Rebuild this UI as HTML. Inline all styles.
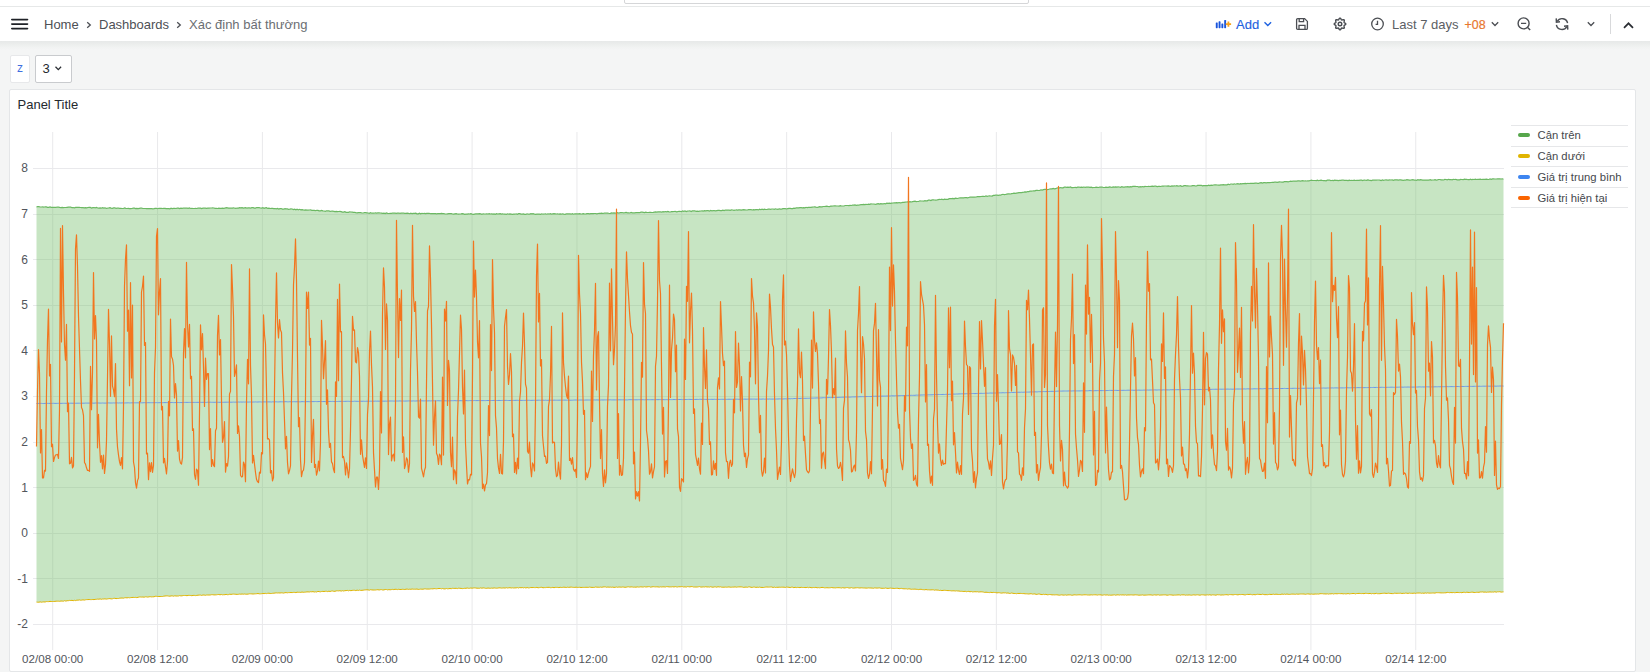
<!DOCTYPE html>
<html><head><meta charset="utf-8">
<style>
*{box-sizing:border-box;margin:0;padding:0}
html,body{width:1650px;height:672px;overflow:hidden;background:#f4f5f5;font-family:"Liberation Sans",sans-serif;color:#24292e}
.abs{position:absolute}
#top{position:absolute;left:0;top:0;width:1650px;height:7px;background:#fff;border-bottom:1px solid #e6e8e8}
#search{position:absolute;left:624px;top:-9px;width:405px;height:13px;border:1px solid #d5d6d8;border-radius:2px;background:#fff}
#hdr{position:absolute;left:0;top:7px;width:1650px;height:34px;background:#fff}
#shd{position:absolute;left:0;top:41px;width:1650px;height:9px;background:linear-gradient(#e7e9e9,#eaeceb 25%,#eef0ef 50%,#f2f3f3 75%,#f4f5f5)}
.t13{font-size:13px;line-height:16px;white-space:nowrap}
.crumb{position:absolute;top:16.5px;color:#4d5055}
.sep{position:absolute;top:16px;color:#55585d}
.var{position:absolute;top:55px;height:27.5px;background:#fff;border-radius:2px}
#panel{position:absolute;left:9px;top:89px;width:1627px;height:583px;background:#fff;border:1px solid #e4e6e8;border-radius:2px}
.yl{position:absolute;width:40px;left:-12px;text-align:right;font-size:12px;line-height:14px;color:#52565c}
.xl{position:absolute;top:652px;width:100px;text-align:center;font-size:11.6px;line-height:14px;color:#52565c}
.leg{position:absolute;left:1511px;width:117px;height:20.7px}
.leg i{position:absolute;left:7px;top:8.4px;width:12px;height:4px;border-radius:2px}
.leg span{position:absolute;left:26.5px;top:3.4px;font-size:11.3px;line-height:14px;color:#45484d;white-space:nowrap}
</style></head><body>
<div id="top"><div id="search"></div></div>
<div id="hdr"></div><div id="shd"></div>
<!-- hamburger -->
<svg class="abs" style="left:0;top:0" width="40" height="41">
<rect x="11" y="18.7" width="17.3" height="1.7" rx="0.8" fill="#1f2227"/>
<rect x="11" y="23.2" width="17.3" height="1.7" rx="0.8" fill="#1f2227"/>
<rect x="11" y="27.7" width="17.3" height="1.7" rx="0.8" fill="#1f2227"/>
</svg>
<div class="crumb t13" style="left:44px">Home</div>
<svg class="abs" style="left:86px;top:21px" width="6" height="8"><path d="M1.2 1.2 L4.3 4 L1.2 6.8" fill="none" stroke="#4b4e53" stroke-width="1.3"/></svg>
<div class="crumb t13" style="left:99px">Dashboards</div>
<svg class="abs" style="left:176px;top:21px" width="6" height="8"><path d="M1.2 1.2 L4.3 4 L1.2 6.8" fill="none" stroke="#4b4e53" stroke-width="1.3"/></svg>
<div class="crumb t13" style="left:189px;color:#6b6e73">Xác định bất thường</div>

<!-- Add -->
<svg class="abs" style="left:1214px;top:18px" width="20" height="12">
<rect x="1.8" y="4.4" width="1.9" height="5.8" rx="0.6" fill="#1a55dc"/>
<rect x="4.6" y="3.3" width="1.9" height="6.9" rx="0.6" fill="#1a55dc"/>
<rect x="7.4" y="5.4" width="1.9" height="4.8" rx="0.6" fill="#1a55dc"/>
<rect x="10.2" y="1.9" width="1.9" height="8.3" rx="0.6" fill="#1a55dc"/>
<path d="M14.4 3.4 V8.7 M11.8 6.1 H17.1" stroke="#f7a21b" stroke-width="1.8"/>
</svg>
<div class="abs t13" style="left:1236px;top:16.8px;color:#1f62e0;-webkit-text-stroke:0.15px #1f62e0">Add</div>
<svg class="abs" style="left:1262.5px;top:20px" width="10" height="8"><path d="M1.5 2.2 L4.8 5.5 L8.1 2.2" fill="none" stroke="#1f62e0" stroke-width="1.4"/></svg>
<!-- save -->
<svg class="abs" style="left:1294px;top:16px" width="16" height="16">
<path d="M3.8 2.6 H10.6 L13.4 5.4 V12.2 Q13.4 13.4 12.2 13.4 H3.8 Q2.6 13.4 2.6 12.2 V3.8 Q2.6 2.6 3.8 2.6 Z" fill="none" stroke="#4b4e53" stroke-width="1.3"/>
<path d="M5.2 2.8 V5.6 H9.6 V2.8 M5 13.2 V9.4 H11 V13.2" fill="none" stroke="#4b4e53" stroke-width="1.3"/>
</svg>
<!-- gear -->
<svg class="abs" style="left:1331.6px;top:16px" width="16" height="16">
<path d="M13.80 8.00 L13.69 8.37 L13.40 8.71 L13.00 8.99 L12.59 9.23 L12.26 9.44 L12.07 9.68 L12.03 9.99 L12.11 10.38 L12.24 10.83 L12.32 11.32 L12.29 11.76 L12.10 12.10 L11.76 12.29 L11.32 12.32 L10.83 12.24 L10.38 12.11 L9.99 12.03 L9.68 12.07 L9.44 12.26 L9.23 12.59 L8.99 13.00 L8.71 13.40 L8.37 13.69 L8.00 13.80 L7.63 13.69 L7.29 13.40 L7.01 13.00 L6.77 12.59 L6.56 12.26 L6.32 12.07 L6.01 12.03 L5.63 12.11 L5.17 12.24 L4.68 12.32 L4.24 12.29 L3.90 12.10 L3.71 11.76 L3.68 11.32 L3.76 10.83 L3.89 10.38 L3.97 9.99 L3.93 9.68 L3.74 9.44 L3.41 9.23 L3.00 8.99 L2.60 8.71 L2.31 8.37 L2.20 8.00 L2.31 7.63 L2.60 7.29 L3.00 7.01 L3.41 6.77 L3.74 6.56 L3.93 6.32 L3.97 6.01 L3.89 5.63 L3.76 5.17 L3.68 4.68 L3.71 4.24 L3.90 3.90 L4.24 3.71 L4.68 3.68 L5.17 3.76 L5.62 3.89 L6.01 3.97 L6.32 3.93 L6.56 3.74 L6.77 3.41 L7.01 3.00 L7.29 2.60 L7.63 2.31 L8.00 2.20 L8.37 2.31 L8.71 2.60 L8.99 3.00 L9.23 3.41 L9.44 3.74 L9.68 3.93 L9.99 3.97 L10.38 3.89 L10.83 3.76 L11.32 3.68 L11.76 3.71 L12.10 3.90 L12.29 4.24 L12.32 4.68 L12.24 5.17 L12.11 5.62 L12.03 6.01 L12.07 6.32 L12.26 6.56 L12.59 6.77 L13.00 7.01 L13.40 7.29 L13.69 7.63 L13.80 8.00Z" fill="none" stroke="#4b4e53" stroke-width="1.45" stroke-linejoin="round"/>
<circle cx="8" cy="8" r="1.8" fill="none" stroke="#4b4e53" stroke-width="1.4"/>
</svg>
<!-- clock -->
<svg class="abs" style="left:1369px;top:16px" width="17" height="17">
<circle cx="8.5" cy="8" r="5.8" fill="none" stroke="#4b4e53" stroke-width="1.3"/>
<path d="M8.5 4.8 V8.3 H6.6" fill="none" stroke="#4b4e53" stroke-width="1.3"/>
</svg>
<div class="abs t13" style="left:1392px;top:16.5px;color:#5b5e63">Last 7 days</div>
<div class="abs t13" style="left:1464.5px;top:16.5px;color:#e8772e;font-size:12.4px;-webkit-text-stroke:0.2px #e8772e">+08</div>
<svg class="abs" style="left:1490px;top:20px" width="10" height="8"><path d="M1.8 2.3 L5 5.5 L8.2 2.3" fill="none" stroke="#4b4e53" stroke-width="1.3"/></svg>
<!-- zoom out -->
<svg class="abs" style="left:1515px;top:15px" width="18" height="18">
<circle cx="8.6" cy="8.4" r="5.5" fill="none" stroke="#4b4e53" stroke-width="1.4"/>
<path d="M6 8.4 H11.2 M12.6 12.4 L15.2 15" fill="none" stroke="#4b4e53" stroke-width="1.4"/>
</svg>
<!-- refresh -->
<svg class="abs" style="left:1553px;top:15px" width="18" height="18">
<path d="M4.2 6.5 A5.6 5.6 0 0 1 14.6 8.2" fill="none" stroke="#4b4e53" stroke-width="1.4"/>
<path d="M13.8 11.6 A5.6 5.6 0 0 1 3.4 9.8" fill="none" stroke="#4b4e53" stroke-width="1.4"/>
<path d="M3.2 3.4 L3.4 7.2 L7 6.8" fill="none" stroke="#4b4e53" stroke-width="1.4"/>
<path d="M14.8 14.6 L14.6 10.8 L11 11.2" fill="none" stroke="#4b4e53" stroke-width="1.4"/>
</svg>
<svg class="abs" style="left:1586px;top:20px" width="10" height="8"><path d="M1.8 2.3 L5 5.5 L8.2 2.3" fill="none" stroke="#4b4e53" stroke-width="1.3"/></svg>
<div class="abs" style="left:1610px;top:14px;width:1px;height:20px;background:#d8d9db"></div>
<svg class="abs" style="left:1622px;top:19.7px" width="13" height="10"><path d="M2 7.8 L6.5 3.3 L11 7.8" fill="none" stroke="#2b2e33" stroke-width="1.7"/></svg>

<!-- variables -->
<div class="var" style="left:9.6px;width:20.9px;border:1px solid #e7e8ea"><span style="position:absolute;left:6.5px;top:5px;font-size:12px;line-height:14px;color:#3f6fe0">z</span></div>
<div class="var" style="left:34.5px;width:37px;border:1px solid #c9cbce"><span style="position:absolute;left:7px;top:4.8px;font-size:13px;line-height:15px;color:#24292e">3</span>
<svg class="abs" style="left:18.5px;top:9px" width="9" height="7"><path d="M1.5 1.8 L4.3 4.6 L7.1 1.8" fill="none" stroke="#2b2e33" stroke-width="1.3"/></svg></div>

<div id="panel"></div>
<div class="abs" style="left:17.5px;top:96.7px;font-size:13px;line-height:16px;color:#24292e">Panel Title</div>

<svg class="abs" style="left:0;top:0" width="1650" height="672">
<rect x="33" y="624" width="1471" height="1" fill="#e9e9ec"/>
<rect x="33" y="578" width="1471" height="1" fill="#e9e9ec"/>
<rect x="33" y="533" width="1471" height="1" fill="#e9e9ec"/>
<rect x="33" y="487" width="1471" height="1" fill="#e9e9ec"/>
<rect x="33" y="442" width="1471" height="1" fill="#e9e9ec"/>
<rect x="33" y="396" width="1471" height="1" fill="#e9e9ec"/>
<rect x="33" y="350" width="1471" height="1" fill="#e9e9ec"/>
<rect x="33" y="305" width="1471" height="1" fill="#e9e9ec"/>
<rect x="33" y="259" width="1471" height="1" fill="#e9e9ec"/>
<rect x="33" y="214" width="1471" height="1" fill="#e9e9ec"/>
<rect x="33" y="168" width="1471" height="1" fill="#e9e9ec"/>
<rect x="52.20" y="132" width="1" height="518" fill="#e9e9ec"/>
<rect x="157.05" y="132" width="1" height="518" fill="#e9e9ec"/>
<rect x="261.90" y="132" width="1" height="518" fill="#e9e9ec"/>
<rect x="366.75" y="132" width="1" height="518" fill="#e9e9ec"/>
<rect x="471.60" y="132" width="1" height="518" fill="#e9e9ec"/>
<rect x="576.45" y="132" width="1" height="518" fill="#e9e9ec"/>
<rect x="681.30" y="132" width="1" height="518" fill="#e9e9ec"/>
<rect x="786.15" y="132" width="1" height="518" fill="#e9e9ec"/>
<rect x="891.00" y="132" width="1" height="518" fill="#e9e9ec"/>
<rect x="995.85" y="132" width="1" height="518" fill="#e9e9ec"/>
<rect x="1100.70" y="132" width="1" height="518" fill="#e9e9ec"/>
<rect x="1205.55" y="132" width="1" height="518" fill="#e9e9ec"/>
<rect x="1310.40" y="132" width="1" height="518" fill="#e9e9ec"/>
<rect x="1415.25" y="132" width="1" height="518" fill="#e9e9ec"/>
<path d="M36.5 206.9 L37.7 206.7 L38.9 206.7 L40.2 207 L41.4 207 L42.6 206.9 L43.8 207.2 L45.1 206.8 L46.3 206.9 L47.5 207.4 L48.7 207.3 L50 206.9 L51.2 207.3 L52.4 207.3 L53.6 207.4 L54.9 207.3 L56.1 207.4 L57.3 207 L58.5 207.1 L59.7 207.4 L61 207.6 L62.2 207.4 L63.4 207.6 L64.6 207.5 L65.9 207.5 L67.1 207.3 L68.3 207.1 L69.5 207.2 L70.8 207.2 L72 207.7 L73.2 207.5 L74.4 207.8 L75.7 207.4 L76.9 207.3 L78.1 207.4 L79.3 207.4 L80.5 207.5 L81.8 207.7 L83 207.7 L84.2 207.8 L85.4 207.6 L86.7 207.8 L87.9 207.5 L89.1 207.4 L90.3 207.4 L91.6 208 L92.8 207.6 L94 207.5 L95.2 207.8 L96.5 207.5 L97.7 208 L98.9 208.1 L100.1 207.9 L101.3 208.2 L102.6 207.7 L103.8 208.1 L105 207.8 L106.2 208.3 L107.5 208.2 L108.7 208 L109.9 207.6 L111.1 208.1 L112.4 208.3 L113.6 207.9 L114.8 207.8 L116 208.3 L117.3 208.2 L118.5 208.2 L119.7 208.3 L120.9 208.3 L122.1 208.5 L123.4 208.5 L124.6 207.9 L125.8 208.4 L127 208.5 L128.3 208.3 L129.5 208.6 L130.7 208.6 L131.9 208.5 L133.2 208.1 L134.4 208.1 L135.6 208.6 L136.8 208.4 L138.1 208.6 L139.3 208.4 L140.5 208.2 L141.7 208.2 L142.9 208.5 L144.2 208.5 L145.4 208.5 L146.6 208.7 L147.8 208.7 L149.1 208.6 L150.3 208.6 L151.5 208.5 L152.7 208.8 L154 208.6 L155.2 208.3 L156.4 208.3 L157.6 208.7 L158.9 208.3 L160.1 208.3 L161.3 208.4 L162.5 208.5 L163.7 208.3 L165 208.4 L166.2 208.7 L167.4 208.5 L168.6 208.6 L169.9 208.8 L171.1 208.2 L172.3 208.7 L173.5 208.4 L174.8 208.3 L176 208.5 L177.2 208.1 L178.4 208.1 L179.7 208.6 L180.9 208.1 L182.1 208.3 L183.3 208.2 L184.5 208.2 L185.8 208.1 L187 208.2 L188.2 208.4 L189.4 208 L190.7 208.5 L191.9 208.3 L193.1 208.5 L194.3 208.5 L195.6 208.4 L196.8 208.5 L198 208.2 L199.2 208 L200.5 208.1 L201.7 208.5 L202.9 208.1 L204.1 208.2 L205.3 208.1 L206.6 208.3 L207.8 208.1 L209 208.1 L210.2 208 L211.5 208 L212.7 207.9 L213.9 208 L215.1 208.3 L216.4 208.4 L217.6 208.5 L218.8 208.2 L220 208.4 L221.3 208.3 L222.5 208.1 L223.7 208.3 L224.9 208.2 L226.1 207.7 L227.4 207.8 L228.6 208.1 L229.8 208 L231 208.2 L232.3 208.1 L233.5 207.8 L234.7 208.2 L235.9 208.3 L237.2 208 L238.4 208.1 L239.6 207.7 L240.8 207.8 L242.1 207.6 L243.3 208.1 L244.5 207.9 L245.7 207.7 L246.9 208.2 L248.2 207.9 L249.4 207.9 L250.6 208.2 L251.8 207.6 L253.1 207.6 L254.3 208.1 L255.5 208.1 L256.7 207.5 L258 207.7 L259.2 207.7 L260.4 208 L261.6 208.1 L262.9 207.7 L264.1 208.3 L265.3 207.9 L266.5 207.7 L267.7 208.4 L269 208.2 L270.2 208.5 L271.4 208.4 L272.6 208.4 L273.9 208.6 L275.1 208.5 L276.3 208.8 L277.5 208.5 L278.8 209 L280 208.6 L281.2 208.5 L282.4 209.1 L283.7 209.2 L284.9 208.7 L286.1 208.9 L287.3 208.9 L288.5 209.3 L289.8 209.2 L291 208.9 L292.2 209 L293.4 209.6 L294.7 209.2 L295.9 209.8 L297.1 209.2 L298.3 209.9 L299.6 209.3 L300.8 209.9 L302 209.6 L303.2 209.9 L304.5 210.1 L305.7 209.9 L306.9 210.2 L308.1 210.2 L309.3 210 L310.6 209.9 L311.8 210.3 L313 210.4 L314.2 210.4 L315.5 210.7 L316.7 210.3 L317.9 210.4 L319.1 210.8 L320.4 210.8 L321.6 210.4 L322.8 210.9 L324 211 L325.3 211.3 L326.5 210.8 L327.7 210.9 L328.9 210.9 L330.1 211.3 L331.4 211.2 L332.6 211 L333.8 211.3 L335 211.6 L336.3 211.4 L337.5 211.7 L338.7 211.5 L339.9 211.4 L341.2 211.6 L342.4 212.1 L343.6 212.1 L344.8 211.6 L346.1 212.3 L347.3 212.3 L348.5 212.3 L349.7 211.8 L350.9 212 L352.2 212.2 L353.4 212.4 L354.6 212.3 L355.8 212.6 L357.1 212.8 L358.3 212.6 L359.5 212.5 L360.7 212.7 L362 213 L363.2 213 L364.4 212.7 L365.6 212.6 L366.9 212.8 L368.1 213 L369.3 213.3 L370.5 212.7 L371.7 213.2 L373 213 L374.2 213.2 L375.4 212.8 L376.6 213.1 L377.9 212.9 L379.1 212.9 L380.3 213 L381.5 213.1 L382.8 213.3 L384 213.1 L385.2 213.5 L386.4 212.9 L387.7 213.3 L388.9 213.5 L390.1 213.4 L391.3 213.3 L392.5 213.2 L393.8 213.1 L395 213.1 L396.2 213.4 L397.4 213.1 L398.7 213 L399.9 213.4 L401.1 213.1 L402.3 213.2 L403.6 213.2 L404.8 213.3 L406 213.3 L407.2 213.2 L408.4 213.3 L409.7 213.7 L410.9 213.1 L412.1 213.7 L413.3 213.4 L414.6 213.3 L415.8 213.2 L417 213.8 L418.2 213.8 L419.5 213.2 L420.7 213.8 L421.9 213.3 L423.1 213.5 L424.4 213.3 L425.6 213.6 L426.8 213.4 L428 213.3 L429.2 213.3 L430.5 213.7 L431.7 213.5 L432.9 213.6 L434.1 213.6 L435.4 213.7 L436.6 213.9 L437.8 213.7 L439 213.6 L440.3 213.7 L441.5 213.4 L442.7 213.7 L443.9 213.7 L445.2 214 L446.4 214 L447.6 213.8 L448.8 213.6 L450 213.5 L451.3 213.6 L452.5 214 L453.7 214.1 L454.9 213.8 L456.2 213.6 L457.4 214 L458.6 214.1 L459.8 214 L461.1 213.9 L462.3 213.6 L463.5 213.9 L464.7 214.3 L466 214.1 L467.2 214.1 L468.4 213.8 L469.6 214 L470.8 213.6 L472.1 214.1 L473.3 214.3 L474.5 214.1 L475.7 213.9 L477 213.8 L478.2 213.8 L479.4 213.7 L480.6 213.8 L481.9 214.3 L483.1 213.8 L484.3 214 L485.5 214 L486.8 213.8 L488 214 L489.2 213.7 L490.4 214 L491.6 213.8 L492.9 214.1 L494.1 213.9 L495.3 214.3 L496.5 213.7 L497.8 214 L499 213.8 L500.2 213.7 L501.4 214.1 L502.7 213.8 L503.9 214.2 L505.1 214.1 L506.3 214.3 L507.6 213.8 L508.8 214.2 L510 213.9 L511.2 214.1 L512.4 214.3 L513.7 214.1 L514.9 214.2 L516.1 213.8 L517.3 214.3 L518.6 213.7 L519.8 213.7 L521 214.1 L522.2 214.2 L523.5 213.9 L524.7 214.3 L525.9 214.3 L527.1 213.8 L528.4 214.2 L529.6 214.2 L530.8 213.7 L532 213.8 L533.2 213.7 L534.5 214.2 L535.7 214.3 L536.9 214.1 L538.1 214 L539.4 214.1 L540.6 214.3 L541.8 213.8 L543 214.2 L544.3 214 L545.5 213.8 L546.7 214.2 L547.9 213.8 L549.2 214 L550.4 213.7 L551.6 214.2 L552.8 213.9 L554 213.7 L555.3 213.8 L556.5 214 L557.7 213.8 L558.9 214.2 L560.2 213.9 L561.4 214.2 L562.6 213.8 L563.8 214.1 L565.1 214.3 L566.3 213.9 L567.5 213.8 L568.7 213.9 L570 213.9 L571.2 214.2 L572.4 213.7 L573.6 214.2 L574.8 213.8 L576.1 213.8 L577.3 213.9 L578.5 213.9 L579.7 213.7 L581 214 L582.2 213.9 L583.4 213.6 L584.6 214 L585.9 213.9 L587.1 213.6 L588.3 213.6 L589.5 213.8 L590.8 213.6 L592 213.7 L593.2 213.7 L594.4 213.5 L595.6 213.5 L596.9 213.8 L598.1 213.5 L599.3 213.4 L600.5 213.4 L601.8 213.2 L603 213.5 L604.2 213.2 L605.4 213.2 L606.7 213.2 L607.9 213 L609.1 213.5 L610.3 213.4 L611.6 212.9 L612.8 213.2 L614 212.9 L615.2 213.1 L616.4 213 L617.7 212.7 L618.9 213.2 L620.1 212.7 L621.3 212.5 L622.6 212.7 L623.8 212.8 L625 212.7 L626.2 212.4 L627.5 212.9 L628.7 212.8 L629.9 213 L631.1 212.4 L632.4 212.8 L633.6 212.9 L634.8 212.8 L636 212.6 L637.2 212.7 L638.5 212.5 L639.7 212.7 L640.9 212.2 L642.1 212.1 L643.4 212.3 L644.6 212.6 L645.8 212.2 L647 212.5 L648.3 212.5 L649.5 212.3 L650.7 212.3 L651.9 212.5 L653.2 212.4 L654.4 212.1 L655.6 211.9 L656.8 212.2 L658 211.9 L659.3 211.8 L660.5 211.9 L661.7 212.2 L662.9 211.7 L664.2 211.9 L665.4 211.5 L666.6 211.8 L667.8 211.4 L669.1 211.8 L670.3 212 L671.5 211.7 L672.7 211.7 L674 211.5 L675.2 211.3 L676.4 211.8 L677.6 211.7 L678.8 211.3 L680.1 211.3 L681.3 211.7 L682.5 211 L683.7 211.4 L685 211 L686.2 211.6 L687.4 211.2 L688.6 211 L689.9 210.8 L691.1 211.5 L692.3 210.9 L693.5 210.9 L694.8 210.8 L696 211.3 L697.2 211.1 L698.4 211.3 L699.6 211.1 L700.9 211 L702.1 210.8 L703.3 211.1 L704.5 210.7 L705.8 210.9 L707 210.7 L708.2 210.7 L709.4 211 L710.7 210.5 L711.9 210.8 L713.1 210.7 L714.3 210.7 L715.6 210.8 L716.8 210.6 L718 210.4 L719.2 210.4 L720.4 210.7 L721.7 210.6 L722.9 210.2 L724.1 210.5 L725.3 210 L726.6 210.1 L727.8 210.1 L729 210.2 L730.2 210.4 L731.5 209.9 L732.7 210 L733.9 210.4 L735.1 210.2 L736.4 209.8 L737.6 210.1 L738.8 209.8 L740 209.9 L741.2 210.1 L742.5 209.8 L743.7 209.6 L744.9 209.8 L746.1 210 L747.4 210 L748.6 209.6 L749.8 209.5 L751 209.7 L752.3 210 L753.5 209.7 L754.7 209.9 L755.9 209.7 L757.2 209.5 L758.4 209.9 L759.6 209.2 L760.8 209.7 L762 209.1 L763.3 209.5 L764.5 209.1 L765.7 209.5 L766.9 209.5 L768.2 209.1 L769.4 209 L770.6 209.4 L771.8 209 L773.1 209 L774.3 209.4 L775.5 208.8 L776.7 209.2 L778 209.3 L779.2 208.8 L780.4 209.1 L781.6 209.2 L782.8 208.6 L784.1 208.7 L785.3 208.6 L786.5 209 L787.7 208.7 L789 208.4 L790.2 208.4 L791.4 208.7 L792.6 208.6 L793.9 208.1 L795.1 208.4 L796.3 207.8 L797.5 207.9 L798.8 207.8 L800 207.7 L801.2 207.7 L802.4 207.9 L803.6 207.6 L804.9 207.9 L806.1 207.3 L807.3 207.7 L808.5 207.4 L809.8 207.4 L811 207.4 L812.2 207.1 L813.4 207 L814.7 206.8 L815.9 207.1 L817.1 207.3 L818.3 207.1 L819.6 206.6 L820.8 206.9 L822 206.8 L823.2 206.5 L824.4 206.5 L825.7 206.3 L826.9 206.2 L828.1 206.5 L829.3 206.7 L830.6 206.1 L831.8 206.1 L833 206 L834.2 205.9 L835.5 205.9 L836.7 206 L837.9 206 L839.1 206.1 L840.4 205.7 L841.6 206 L842.8 206 L844 206 L845.2 205.5 L846.5 205.5 L847.7 205.5 L848.9 205.7 L850.1 205.4 L851.4 205.5 L852.6 205 L853.8 205.2 L855 204.9 L856.3 205.3 L857.5 205.1 L858.7 205.2 L859.9 204.8 L861.2 204.5 L862.4 204.6 L863.6 204.3 L864.8 204.6 L866 204.3 L867.3 204.5 L868.5 204.2 L869.7 204.3 L870.9 203.9 L872.2 204 L873.4 204 L874.6 204.2 L875.8 204.3 L877.1 203.9 L878.3 203.6 L879.5 204 L880.7 203.6 L882 203.9 L883.2 203.8 L884.4 203.5 L885.6 203.8 L886.8 203.1 L888.1 203.4 L889.3 203.2 L890.5 203.3 L891.7 203.1 L893 203 L894.2 202.8 L895.4 202.9 L896.6 202.6 L897.9 202.8 L899.1 202.5 L900.3 202.8 L901.5 202.7 L902.8 202.4 L904 202.4 L905.2 202.2 L906.4 202 L907.6 201.9 L908.9 201.9 L910.1 201.7 L911.3 202 L912.5 201.6 L913.8 201.4 L915 201.2 L916.2 201.6 L917.4 201.5 L918.7 201.5 L919.9 200.8 L921.1 201 L922.3 201 L923.6 201.2 L924.8 200.7 L926 200.8 L927.2 200.8 L928.4 200.2 L929.7 200.2 L930.9 200.6 L932.1 199.9 L933.3 199.8 L934.6 200 L935.8 200.1 L937 200 L938.2 199.6 L939.5 199.4 L940.7 199.5 L941.9 199.2 L943.1 199.7 L944.4 199.1 L945.6 199.4 L946.8 199.3 L948 199.3 L949.2 198.7 L950.5 198.6 L951.7 198.7 L952.9 198.4 L954.1 198.9 L955.4 198.2 L956.6 198.3 L957.8 198.5 L959 198 L960.3 197.8 L961.5 197.8 L962.7 197.8 L963.9 197.8 L965.2 197.5 L966.4 197.6 L967.6 197.9 L968.8 197.5 L970 197.2 L971.3 197.2 L972.5 197 L973.7 197.1 L974.9 197.2 L976.2 197 L977.4 196.6 L978.6 196.6 L979.8 196.7 L981.1 196.5 L982.3 196.3 L983.5 196.3 L984.7 196.5 L986 196 L987.2 196.3 L988.4 196 L989.6 195.8 L990.8 196 L992.1 196.1 L993.3 195.4 L994.5 195.4 L995.7 195.2 L997 195.2 L998.2 195.4 L999.4 195.2 L1000.6 195.2 L1001.9 194.5 L1003.1 194.3 L1004.3 194.7 L1005.5 194.5 L1006.8 194.1 L1008 193.9 L1009.2 193.9 L1010.4 194 L1011.6 193.6 L1012.9 193.4 L1014.1 193.1 L1015.3 193.3 L1016.5 193.1 L1017.8 192.9 L1019 192.7 L1020.2 192.5 L1021.4 192.6 L1022.7 192.3 L1023.9 192.1 L1025.1 191.8 L1026.3 192.1 L1027.6 191.5 L1028.8 191.6 L1030 191.2 L1031.2 191.1 L1032.4 191 L1033.7 190.8 L1034.9 190.8 L1036.1 190.4 L1037.3 190.3 L1038.6 190.5 L1039.8 190.3 L1041 189.8 L1042.2 190.1 L1043.5 189.7 L1044.7 189.4 L1045.9 189.4 L1047.1 189.7 L1048.4 189.5 L1049.6 189 L1050.8 188.9 L1052 188.8 L1053.2 188.4 L1054.5 188.8 L1055.7 188.7 L1056.9 188 L1058.1 187.8 L1059.4 187.9 L1060.6 187.5 L1061.8 187.8 L1063 187.8 L1064.3 187.2 L1065.5 187.2 L1066.7 187.4 L1067.9 187.1 L1069.2 187.3 L1070.4 187 L1071.6 187.6 L1072.8 187.6 L1074 187.5 L1075.3 187.4 L1076.5 187.6 L1077.7 187.2 L1078.9 187 L1080.2 187.3 L1081.4 187.2 L1082.6 187.3 L1083.8 187 L1085.1 187.3 L1086.3 187.1 L1087.5 187.1 L1088.7 187.1 L1090 187.3 L1091.2 187.2 L1092.4 187.6 L1093.6 187.5 L1094.8 187.5 L1096.1 187.2 L1097.3 187.3 L1098.5 187.5 L1099.7 187.2 L1101 187.1 L1102.2 187.2 L1103.4 187.5 L1104.6 187.5 L1105.9 187.1 L1107.1 187.4 L1108.3 187.4 L1109.5 186.9 L1110.8 187.2 L1112 187.4 L1113.2 186.9 L1114.4 187.1 L1115.6 186.8 L1116.9 187.1 L1118.1 186.9 L1119.3 187 L1120.5 187.3 L1121.8 186.7 L1123 187.1 L1124.2 187.1 L1125.4 186.9 L1126.7 186.8 L1127.9 186.6 L1129.1 187.1 L1130.3 186.6 L1131.6 186.8 L1132.8 186.4 L1134 186.4 L1135.2 186.4 L1136.4 186.5 L1137.7 186.5 L1138.9 187 L1140.1 186.7 L1141.3 186.8 L1142.6 186.5 L1143.8 186.8 L1145 186.4 L1146.2 186.5 L1147.5 186.5 L1148.7 186.4 L1149.9 186.5 L1151.1 186.3 L1152.3 186.1 L1153.6 186.4 L1154.8 186.2 L1156 186.2 L1157.2 186.7 L1158.5 186.4 L1159.7 186.4 L1160.9 186.5 L1162.1 186 L1163.4 186.1 L1164.6 186 L1165.8 186 L1167 186.2 L1168.3 185.9 L1169.5 186.2 L1170.7 186.4 L1171.9 185.9 L1173.1 186.2 L1174.4 185.9 L1175.6 186 L1176.8 185.7 L1178 186.1 L1179.3 186 L1180.5 185.6 L1181.7 186.3 L1182.9 186.1 L1184.2 185.6 L1185.4 185.6 L1186.6 185.9 L1187.8 185.9 L1189.1 186 L1190.3 186 L1191.5 185.9 L1192.7 185.6 L1193.9 185.5 L1195.2 185.8 L1196.4 186 L1197.6 185.4 L1198.8 185.3 L1200.1 185.4 L1201.3 185.3 L1202.5 185.9 L1203.7 185.7 L1205 185.5 L1206.2 185.7 L1207.4 185.7 L1208.6 185.1 L1209.9 185.6 L1211.1 185.2 L1212.3 185.3 L1213.5 185 L1214.7 184.9 L1216 184.9 L1217.2 185 L1218.4 185.2 L1219.6 185.1 L1220.9 184.8 L1222.1 184.9 L1223.3 184.7 L1224.5 184.9 L1225.8 184.8 L1227 184.8 L1228.2 184.2 L1229.4 184.7 L1230.7 184 L1231.9 184 L1233.1 184.4 L1234.3 183.8 L1235.5 184.2 L1236.8 183.8 L1238 183.6 L1239.2 184.2 L1240.4 183.6 L1241.7 183.9 L1242.9 183.7 L1244.1 183.7 L1245.3 183.4 L1246.6 183.7 L1247.8 183.3 L1249 183.5 L1250.2 183.3 L1251.5 183.4 L1252.7 183.4 L1253.9 183.4 L1255.1 183.1 L1256.3 183 L1257.6 183.4 L1258.8 183.3 L1260 182.8 L1261.2 182.6 L1262.5 183.1 L1263.7 182.6 L1264.9 182.6 L1266.1 182.8 L1267.4 182.6 L1268.6 182.6 L1269.8 182.6 L1271 182.5 L1272.3 182.4 L1273.5 182.4 L1274.7 182.2 L1275.9 182.2 L1277.1 182.4 L1278.4 182.1 L1279.6 181.8 L1280.8 182 L1282 182.1 L1283.3 182.1 L1284.5 181.5 L1285.7 181.6 L1286.9 181.6 L1288.2 181.9 L1289.4 181.5 L1290.6 181.2 L1291.8 181.4 L1293.1 181.2 L1294.3 181.1 L1295.5 181 L1296.7 181.1 L1297.9 180.8 L1299.2 180.9 L1300.4 181.1 L1301.6 180.9 L1302.8 180.7 L1304.1 181 L1305.3 180.8 L1306.5 181 L1307.7 180.8 L1309 180.8 L1310.2 180.5 L1311.4 180.2 L1312.6 180.5 L1313.9 180.5 L1315.1 180.5 L1316.3 180.6 L1317.5 180.1 L1318.7 180.7 L1320 180.3 L1321.2 180.2 L1322.4 180.5 L1323.6 180.6 L1324.9 180.6 L1326.1 180.8 L1327.3 180.2 L1328.5 180.1 L1329.8 180.2 L1331 180.7 L1332.2 180.3 L1333.4 180.6 L1334.7 180.2 L1335.9 180.4 L1337.1 180.4 L1338.3 180.6 L1339.5 180.4 L1340.8 180.4 L1342 180.2 L1343.2 180.2 L1344.4 180.4 L1345.7 180.3 L1346.9 180.3 L1348.1 180.6 L1349.3 180.1 L1350.6 180.5 L1351.8 180.4 L1353 180.5 L1354.2 180.1 L1355.5 180.5 L1356.7 180.4 L1357.9 180.4 L1359.1 180.4 L1360.3 180.1 L1361.6 180.1 L1362.8 180.5 L1364 180 L1365.2 180.2 L1366.5 180.3 L1367.7 179.9 L1368.9 180.2 L1370.1 180.4 L1371.4 180.6 L1372.6 180.1 L1373.8 180.2 L1375 180.2 L1376.3 180.2 L1377.5 180 L1378.7 180 L1379.9 180.2 L1381.1 180.5 L1382.4 180 L1383.6 180.3 L1384.8 180 L1386 179.9 L1387.3 180.2 L1388.5 180.1 L1389.7 179.9 L1390.9 180 L1392.2 179.9 L1393.4 180.3 L1394.6 179.9 L1395.8 179.8 L1397.1 179.8 L1398.3 180.1 L1399.5 179.9 L1400.7 179.8 L1401.9 180.1 L1403.2 180.4 L1404.4 180.1 L1405.6 180.2 L1406.8 179.7 L1408.1 179.9 L1409.3 180.1 L1410.5 180.2 L1411.7 179.8 L1413 179.7 L1414.2 180.2 L1415.4 180 L1416.6 180.3 L1417.9 179.7 L1419.1 180.1 L1420.3 179.7 L1421.5 179.8 L1422.7 180.1 L1424 180.1 L1425.2 180 L1426.4 180.1 L1427.6 180 L1428.9 180.2 L1430.1 179.6 L1431.3 180.1 L1432.5 180 L1433.8 180 L1435 179.6 L1436.2 180.1 L1437.4 179.9 L1438.7 179.5 L1439.9 179.5 L1441.1 179.8 L1442.3 179.9 L1443.5 180 L1444.8 179.4 L1446 179.5 L1447.2 179.8 L1448.4 179.3 L1449.7 179.6 L1450.9 179.5 L1452.1 179.8 L1453.3 179.3 L1454.6 179.5 L1455.8 179.3 L1457 179.8 L1458.2 179.8 L1459.5 179.8 L1460.7 179.4 L1461.9 179.5 L1463.1 179.7 L1464.3 179.1 L1465.6 179.4 L1466.8 179.3 L1468 179.7 L1469.2 179.7 L1470.5 179.1 L1471.7 179.7 L1472.9 179.4 L1474.1 179.5 L1475.4 179.2 L1476.6 179.5 L1477.8 179.3 L1479 179.4 L1480.3 179.1 L1481.5 179.5 L1482.7 179.3 L1483.9 179.4 L1485.1 179.4 L1486.4 179.1 L1487.6 179.4 L1488.8 179.5 L1490 179 L1491.3 179.4 L1492.5 178.9 L1493.7 178.9 L1494.9 179 L1496.2 179 L1497.4 178.9 L1498.6 178.8 L1499.8 178.8 L1501.1 179 L1502.3 178.8 L1503.5 179.2 L1503.5 591.9 L1502.3 592 L1501.1 592.1 L1499.8 591.7 L1498.6 591.8 L1497.4 591.8 L1496.2 592.2 L1494.9 591.7 L1493.7 592.1 L1492.5 592 L1491.3 592.1 L1490 591.9 L1488.8 592.1 L1487.6 592.1 L1486.4 592.3 L1485.1 592 L1483.9 592.2 L1482.7 591.9 L1481.5 592 L1480.3 592 L1479 592.3 L1477.8 592.3 L1476.6 592.3 L1475.4 592.5 L1474.1 592.5 L1472.9 592.2 L1471.7 592.2 L1470.5 592.4 L1469.2 592.5 L1468 592.4 L1466.8 592.2 L1465.6 592.6 L1464.3 592.3 L1463.1 592.3 L1461.9 592.7 L1460.7 592.5 L1459.5 592.6 L1458.2 592.5 L1457 592.4 L1455.8 592.6 L1454.6 592.7 L1453.3 592.5 L1452.1 592.7 L1450.9 592.5 L1449.7 592.7 L1448.4 592.5 L1447.2 592.4 L1446 592.8 L1444.8 592.8 L1443.5 592.9 L1442.3 592.9 L1441.1 592.9 L1439.9 592.8 L1438.7 592.7 L1437.4 592.7 L1436.2 592.7 L1435 593.1 L1433.8 593 L1432.5 593 L1431.3 593.1 L1430.1 593.1 L1428.9 593.1 L1427.6 592.9 L1426.4 593.2 L1425.2 592.9 L1424 593.3 L1422.7 593.1 L1421.5 593.3 L1420.3 593 L1419.1 593 L1417.9 593 L1416.6 593.1 L1415.4 593.4 L1414.2 593.1 L1413 593.3 L1411.7 593.3 L1410.5 593.3 L1409.3 593.1 L1408.1 593.4 L1406.8 593.2 L1405.6 593.1 L1404.4 593.4 L1403.2 593.3 L1401.9 593.5 L1400.7 593.2 L1399.5 593.3 L1398.3 593.3 L1397.1 593.3 L1395.8 593.3 L1394.6 593.2 L1393.4 593.6 L1392.2 593.6 L1390.9 593.5 L1389.7 593.4 L1388.5 593.2 L1387.3 593.4 L1386 593.4 L1384.8 593.2 L1383.6 593.3 L1382.4 593.4 L1381.1 593.5 L1379.9 593.7 L1378.7 593.7 L1377.5 593.7 L1376.3 593.3 L1375 593.7 L1373.8 593.7 L1372.6 593.5 L1371.4 593.8 L1370.1 593.4 L1368.9 593.6 L1367.7 593.5 L1366.5 593.4 L1365.2 593.3 L1364 593.7 L1362.8 593.5 L1361.6 593.6 L1360.3 593.5 L1359.1 593.4 L1357.9 593.5 L1356.7 593.5 L1355.5 593.9 L1354.2 593.5 L1353 593.5 L1351.8 593.6 L1350.6 593.7 L1349.3 593.9 L1348.1 593.5 L1346.9 593.8 L1345.7 593.9 L1344.4 593.7 L1343.2 593.9 L1342 593.6 L1340.8 593.7 L1339.5 593.6 L1338.3 593.6 L1337.1 593.8 L1335.9 593.7 L1334.7 593.7 L1333.4 594 L1332.2 593.6 L1331 593.9 L1329.8 593.8 L1328.5 594.1 L1327.3 593.8 L1326.1 594 L1324.9 593.9 L1323.6 593.9 L1322.4 593.7 L1321.2 593.7 L1320 593.7 L1318.7 594.1 L1317.5 594 L1316.3 594.1 L1315.1 594 L1313.9 594.2 L1312.6 594.2 L1311.4 594 L1310.2 594.2 L1309 594 L1307.7 593.9 L1306.5 594.1 L1305.3 594.3 L1304.1 594 L1302.8 594 L1301.6 594 L1300.4 594 L1299.2 594.1 L1297.9 594.2 L1296.7 594 L1295.5 594.3 L1294.3 594.2 L1293.1 594.1 L1291.8 594.1 L1290.6 594.3 L1289.4 594.4 L1288.2 594.3 L1286.9 594 L1285.7 594.4 L1284.5 594.1 L1283.3 594.4 L1282 594 L1280.8 594.5 L1279.6 594.5 L1278.4 594.5 L1277.1 594.3 L1275.9 594.2 L1274.7 594.5 L1273.5 594.2 L1272.3 594.4 L1271 594.5 L1269.8 594.3 L1268.6 594.5 L1267.4 594.7 L1266.1 594.6 L1264.9 594.7 L1263.7 594.5 L1262.5 594.2 L1261.2 594.6 L1260 594.4 L1258.8 594.4 L1257.6 594.3 L1256.3 594.5 L1255.1 594.8 L1253.9 594.5 L1252.7 594.8 L1251.5 594.6 L1250.2 594.3 L1249 594.5 L1247.8 594.4 L1246.6 594.5 L1245.3 594.9 L1244.1 594.8 L1242.9 594.5 L1241.7 594.5 L1240.4 594.6 L1239.2 594.5 L1238 594.9 L1236.8 594.7 L1235.5 594.5 L1234.3 594.6 L1233.1 594.9 L1231.9 594.7 L1230.7 594.6 L1229.4 594.6 L1228.2 595 L1227 594.7 L1225.8 594.7 L1224.5 594.8 L1223.3 595 L1222.1 594.9 L1220.9 595.1 L1219.6 594.8 L1218.4 594.8 L1217.2 594.7 L1216 595.2 L1214.7 595 L1213.5 594.9 L1212.3 594.8 L1211.1 595.2 L1209.9 594.7 L1208.6 595 L1207.4 594.8 L1206.2 595 L1205 595.1 L1203.7 594.9 L1202.5 594.8 L1201.3 594.8 L1200.1 595.2 L1198.8 595 L1197.6 594.8 L1196.4 594.9 L1195.2 595.1 L1193.9 594.8 L1192.7 595 L1191.5 595.2 L1190.3 595.1 L1189.1 594.9 L1187.8 595.1 L1186.6 595 L1185.4 595.2 L1184.2 594.8 L1182.9 594.9 L1181.7 594.8 L1180.5 595.2 L1179.3 594.9 L1178 594.9 L1176.8 595 L1175.6 595.1 L1174.4 595.1 L1173.1 595.2 L1171.9 595 L1170.7 594.9 L1169.5 594.8 L1168.3 595.1 L1167 595.2 L1165.8 594.9 L1164.6 594.9 L1163.4 594.9 L1162.1 595 L1160.9 595 L1159.7 595.2 L1158.5 594.8 L1157.2 594.9 L1156 595.1 L1154.8 594.8 L1153.6 595 L1152.3 595.2 L1151.1 594.9 L1149.9 594.9 L1148.7 594.9 L1147.5 595 L1146.2 595.1 L1145 595.1 L1143.8 595.2 L1142.6 594.9 L1141.3 595.1 L1140.1 595.1 L1138.9 595.2 L1137.7 595 L1136.4 594.9 L1135.2 594.8 L1134 595 L1132.8 595 L1131.6 594.9 L1130.3 594.9 L1129.1 595 L1127.9 594.9 L1126.7 595.2 L1125.4 594.8 L1124.2 595.1 L1123 594.8 L1121.8 595 L1120.5 594.8 L1119.3 595.1 L1118.1 594.8 L1116.9 594.9 L1115.6 595.2 L1114.4 594.8 L1113.2 595 L1112 595.1 L1110.8 595.2 L1109.5 595.1 L1108.3 595.2 L1107.1 594.8 L1105.9 595.1 L1104.6 594.8 L1103.4 595 L1102.2 595.2 L1101 594.9 L1099.7 594.8 L1098.5 594.8 L1097.3 595.1 L1096.1 594.8 L1094.8 594.8 L1093.6 594.8 L1092.4 595 L1091.2 594.8 L1090 595 L1088.7 595 L1087.5 595 L1086.3 594.8 L1085.1 594.8 L1083.8 594.8 L1082.6 595 L1081.4 595 L1080.2 594.8 L1078.9 594.8 L1077.7 594.9 L1076.5 595 L1075.3 594.9 L1074 594.8 L1072.8 595.2 L1071.6 595.2 L1070.4 594.9 L1069.2 594.9 L1067.9 594.9 L1066.7 595.2 L1065.5 594.9 L1064.3 595.1 L1063 595.1 L1061.8 594.8 L1060.6 595 L1059.4 595.2 L1058.1 595 L1056.9 594.8 L1055.7 594.8 L1054.5 594.9 L1053.2 594.8 L1052 594.9 L1050.8 594.6 L1049.6 594.5 L1048.4 594.7 L1047.1 594.8 L1045.9 594.3 L1044.7 594.6 L1043.5 594.3 L1042.2 594.6 L1041 594.5 L1039.8 594.1 L1038.6 594 L1037.3 594.3 L1036.1 594.4 L1034.9 593.9 L1033.7 594 L1032.4 594.1 L1031.2 593.7 L1030 593.8 L1028.8 594 L1027.6 593.9 L1026.3 593.8 L1025.1 593.8 L1023.9 593.6 L1022.7 593.6 L1021.4 593.5 L1020.2 593.4 L1019 593.5 L1017.8 593.4 L1016.5 593.7 L1015.3 593.5 L1014.1 593.5 L1012.9 593.3 L1011.6 593 L1010.4 593.4 L1009.2 593.4 L1008 592.9 L1006.8 593.2 L1005.5 592.8 L1004.3 592.9 L1003.1 592.8 L1001.9 593.1 L1000.6 593 L999.4 592.7 L998.2 592.7 L997 592.9 L995.7 592.6 L994.5 592.5 L993.3 592.4 L992.1 592.6 L990.8 592.3 L989.6 592.6 L988.4 592.5 L987.2 592.4 L986 592.2 L984.7 592.4 L983.5 592.1 L982.3 591.9 L981.1 591.8 L979.8 591.9 L978.6 592 L977.4 591.7 L976.2 591.8 L974.9 591.7 L973.7 591.8 L972.5 591.9 L971.3 591.5 L970 591.8 L968.8 591.4 L967.6 591.5 L966.4 591.7 L965.2 591.3 L963.9 591.5 L962.7 591.4 L961.5 591.3 L960.3 591.3 L959 591 L957.8 591 L956.6 590.8 L955.4 591 L954.1 590.8 L952.9 590.8 L951.7 590.9 L950.5 590.7 L949.2 590.6 L948 590.6 L946.8 590.5 L945.6 590.4 L944.4 590.3 L943.1 590.4 L941.9 590.6 L940.7 590.3 L939.5 590.5 L938.2 590.1 L937 590.1 L935.8 589.9 L934.6 590.2 L933.3 589.8 L932.1 589.8 L930.9 589.9 L929.7 589.9 L928.4 589.8 L927.2 589.8 L926 589.5 L924.8 589.8 L923.6 589.7 L922.3 589.6 L921.1 589.3 L919.9 589.3 L918.7 589.6 L917.4 589.4 L916.2 589.3 L915 589.1 L913.8 589.2 L912.5 589.2 L911.3 589.3 L910.1 589 L908.9 588.8 L907.6 589.1 L906.4 588.8 L905.2 588.8 L904 588.8 L902.8 588.7 L901.5 588.4 L900.3 588.5 L899.1 588.7 L897.9 588.3 L896.6 588.3 L895.4 588.4 L894.2 588.5 L893 588.3 L891.7 588.3 L890.5 588.1 L889.3 588.3 L888.1 588.4 L886.8 588.3 L885.6 588 L884.4 588.3 L883.2 588.3 L882 588.3 L880.7 588.2 L879.5 587.9 L878.3 588 L877.1 588.1 L875.8 588 L874.6 587.9 L873.4 588.3 L872.2 588.1 L870.9 588 L869.7 588 L868.5 587.9 L867.3 588.1 L866 588.1 L864.8 588 L863.6 588 L862.4 587.9 L861.2 587.8 L859.9 588 L858.7 587.9 L857.5 587.7 L856.3 587.8 L855 587.9 L853.8 588.1 L852.6 588 L851.4 587.6 L850.1 588 L848.9 588 L847.7 587.6 L846.5 587.6 L845.2 587.9 L844 588 L842.8 587.6 L841.6 588 L840.4 587.8 L839.1 587.7 L837.9 587.7 L836.7 587.7 L835.5 587.9 L834.2 587.8 L833 587.8 L831.8 587.5 L830.6 587.7 L829.3 587.8 L828.1 587.8 L826.9 587.7 L825.7 587.8 L824.4 587.8 L823.2 587.5 L822 587.4 L820.8 587.6 L819.6 587.8 L818.3 587.6 L817.1 587.8 L815.9 587.4 L814.7 587.6 L813.4 587.5 L812.2 587.7 L811 587.7 L809.8 587.3 L808.5 587.7 L807.3 587.3 L806.1 587.6 L804.9 587.5 L803.6 587.5 L802.4 587.5 L801.2 587.3 L800 587.6 L798.8 587.5 L797.5 587.4 L796.3 587.6 L795.1 587.3 L793.9 587.7 L792.6 587.2 L791.4 587.2 L790.2 587.6 L789 587.3 L787.7 587.2 L786.5 587.1 L785.3 587.5 L784.1 587.2 L782.8 587.2 L781.6 587.2 L780.4 587.3 L779.2 587.2 L778 587.3 L776.7 587.3 L775.5 587.5 L774.3 587.1 L773.1 587.5 L771.8 587 L770.6 587 L769.4 587.1 L768.2 587.1 L766.9 587 L765.7 587.1 L764.5 587.3 L763.3 587.5 L762 587.4 L760.8 587.4 L759.6 587.1 L758.4 587.4 L757.2 587.2 L755.9 587.4 L754.7 587.1 L753.5 587.1 L752.3 587.4 L751 587.3 L749.8 586.9 L748.6 586.9 L747.4 587.3 L746.1 587.1 L744.9 587.2 L743.7 587.4 L742.5 587.1 L741.2 586.9 L740 586.9 L738.8 586.9 L737.6 587 L736.4 587.2 L735.1 586.9 L733.9 587.1 L732.7 587.1 L731.5 587.2 L730.2 587.2 L729 586.9 L727.8 587.1 L726.6 587.2 L725.3 587.1 L724.1 587.2 L722.9 587.2 L721.7 587.2 L720.4 586.8 L719.2 587 L718 586.7 L716.8 587.2 L715.6 586.9 L714.3 586.9 L713.1 587.2 L711.9 587.1 L710.7 586.7 L709.4 587.1 L708.2 586.9 L707 587 L705.8 586.7 L704.5 587 L703.3 586.9 L702.1 587 L700.9 587.1 L699.6 586.6 L698.4 586.8 L697.2 587 L696 587 L694.8 587 L693.5 587 L692.3 586.6 L691.1 586.6 L689.9 586.9 L688.6 586.7 L687.4 586.6 L686.2 587.1 L685 586.8 L683.7 587 L682.5 586.6 L681.3 586.6 L680.1 586.8 L678.8 586.7 L677.6 587 L676.4 586.9 L675.2 586.6 L674 587 L672.7 586.7 L671.5 586.9 L670.3 586.9 L669.1 586.9 L667.8 586.7 L666.6 586.6 L665.4 587 L664.2 586.9 L662.9 586.8 L661.7 587 L660.5 586.8 L659.3 587.1 L658 586.9 L656.8 586.8 L655.6 586.9 L654.4 586.8 L653.2 586.7 L651.9 586.9 L650.7 587.2 L649.5 586.7 L648.3 586.7 L647 586.9 L645.8 587 L644.6 586.7 L643.4 587 L642.1 587 L640.9 586.8 L639.7 587 L638.5 587.1 L637.2 586.9 L636 587.2 L634.8 587.1 L633.6 587.2 L632.4 587 L631.1 586.9 L629.9 587.1 L628.7 586.8 L627.5 586.9 L626.2 587.2 L625 587.3 L623.8 587.1 L622.6 587 L621.3 587.2 L620.1 587.1 L618.9 587 L617.7 587.3 L616.4 587 L615.2 587.3 L614 587.4 L612.8 587.1 L611.6 587.3 L610.3 587.1 L609.1 587.2 L607.9 587 L606.7 587.3 L605.4 586.9 L604.2 586.9 L603 587 L601.8 587.3 L600.5 587.1 L599.3 587.3 L598.1 587.2 L596.9 587.2 L595.6 587 L594.4 587.4 L593.2 587.4 L592 587.4 L590.8 587.3 L589.5 587.1 L588.3 587.4 L587.1 587.3 L585.9 587.3 L584.6 587.4 L583.4 587.4 L582.2 587.4 L581 587.5 L579.7 587.3 L578.5 587.4 L577.3 587.4 L576.1 587.2 L574.8 587.4 L573.6 587.4 L572.4 587.3 L571.2 587.1 L570 587.2 L568.7 587.4 L567.5 587.2 L566.3 587.5 L565.1 587.3 L563.8 587.2 L562.6 587.4 L561.4 587.5 L560.2 587.3 L558.9 587.6 L557.7 587.4 L556.5 587.4 L555.3 587.4 L554 587.7 L552.8 587.4 L551.6 587.6 L550.4 587.7 L549.2 587.3 L547.9 587.4 L546.7 587.4 L545.5 587.6 L544.3 587.6 L543 587.8 L541.8 587.3 L540.6 587.4 L539.4 587.6 L538.1 587.8 L536.9 587.4 L535.7 587.6 L534.5 587.6 L533.2 587.5 L532 587.6 L530.8 587.5 L529.6 587.8 L528.4 587.9 L527.1 587.5 L525.9 588 L524.7 587.5 L523.5 587.9 L522.2 587.5 L521 587.8 L519.8 587.5 L518.6 588 L517.3 587.6 L516.1 587.9 L514.9 587.9 L513.7 588 L512.4 587.8 L511.2 588 L510 587.7 L508.8 587.8 L507.6 588 L506.3 587.7 L505.1 588.1 L503.9 587.9 L502.7 588 L501.4 588.1 L500.2 587.9 L499 587.8 L497.8 588.1 L496.5 588.2 L495.3 588.1 L494.1 587.9 L492.9 588.2 L491.6 588.1 L490.4 588.3 L489.2 588.2 L488 588 L486.8 588.3 L485.5 588.3 L484.3 588 L483.1 587.9 L481.9 588.2 L480.6 587.9 L479.4 588.3 L478.2 588.2 L477 588.2 L475.7 588 L474.5 587.9 L473.3 588 L472.1 588.2 L470.8 588 L469.6 588.3 L468.4 588.3 L467.2 588 L466 588.3 L464.7 588.3 L463.5 588.5 L462.3 588.6 L461.1 588.4 L459.8 588.3 L458.6 588.2 L457.4 588.6 L456.2 588.3 L454.9 588.4 L453.7 588.4 L452.5 588.3 L451.3 588.7 L450 588.5 L448.8 588.7 L447.6 588.8 L446.4 588.5 L445.2 588.9 L443.9 588.9 L442.7 588.5 L441.5 588.8 L440.3 588.5 L439 588.5 L437.8 588.6 L436.6 588.8 L435.4 588.7 L434.1 588.6 L432.9 588.9 L431.7 588.8 L430.5 588.9 L429.2 589.1 L428 589 L426.8 589.1 L425.6 588.9 L424.4 588.9 L423.1 589.2 L421.9 589.2 L420.7 589.1 L419.5 589.3 L418.2 589.4 L417 589 L415.8 589.2 L414.6 589.2 L413.3 589.2 L412.1 589 L410.9 589.3 L409.7 589.2 L408.4 589.4 L407.2 589.1 L406 589.2 L404.8 589.5 L403.6 589.4 L402.3 589.3 L401.1 589.5 L399.9 589.5 L398.7 589.3 L397.4 589.6 L396.2 589.3 L395 589.3 L393.8 589.6 L392.5 589.4 L391.3 589.6 L390.1 589.8 L388.9 589.6 L387.7 589.9 L386.4 589.5 L385.2 589.5 L384 589.9 L382.8 590 L381.5 589.6 L380.3 589.7 L379.1 590 L377.9 589.7 L376.6 589.8 L375.4 590 L374.2 590 L373 590 L371.7 589.9 L370.5 589.7 L369.3 590.2 L368.1 589.9 L366.9 589.8 L365.6 589.9 L364.4 590 L363.2 590.2 L362 590.3 L360.7 590.4 L359.5 590.1 L358.3 590.5 L357.1 590.1 L355.8 590.6 L354.6 590.3 L353.4 590.3 L352.2 590.4 L350.9 590.7 L349.7 590.4 L348.5 590.8 L347.3 590.4 L346.1 590.6 L344.8 590.7 L343.6 591 L342.4 590.7 L341.2 591.1 L339.9 590.7 L338.7 590.9 L337.5 590.8 L336.3 590.9 L335 591.3 L333.8 591.3 L332.6 591 L331.4 591.1 L330.1 591.5 L328.9 591.2 L327.7 591.6 L326.5 591.3 L325.3 591.3 L324 591.5 L322.8 591.4 L321.6 591.5 L320.4 591.8 L319.1 591.6 L317.9 591.4 L316.7 592 L315.5 591.8 L314.2 592 L313 591.6 L311.8 591.8 L310.6 591.7 L309.3 592 L308.1 591.9 L306.9 591.9 L305.7 592.1 L304.5 592.2 L303.2 592.3 L302 592 L300.8 592.4 L299.6 592.3 L298.3 592.3 L297.1 592.2 L295.9 592.6 L294.7 592.4 L293.4 592.4 L292.2 592.6 L291 592.5 L289.8 592.6 L288.5 592.6 L287.3 592.8 L286.1 592.6 L284.9 592.7 L283.7 593.1 L282.4 592.9 L281.2 592.8 L280 593 L278.8 592.9 L277.5 593 L276.3 592.9 L275.1 593 L273.9 593.2 L272.6 593.3 L271.4 593.5 L270.2 593.5 L269 593.2 L267.7 593.3 L266.5 593.6 L265.3 593.4 L264.1 593.6 L262.9 593.5 L261.6 593.7 L260.4 593.8 L259.2 593.8 L258 593.5 L256.7 593.7 L255.5 593.8 L254.3 593.9 L253.1 594 L251.8 593.9 L250.6 593.8 L249.4 593.8 L248.2 594.1 L246.9 594.2 L245.7 594.2 L244.5 594 L243.3 594.2 L242.1 594 L240.8 594.2 L239.6 594.1 L238.4 594.3 L237.2 594.4 L235.9 594.3 L234.7 594.2 L233.5 594.1 L232.3 594.2 L231 594.4 L229.8 594.2 L228.6 594.6 L227.4 594.7 L226.1 594.4 L224.9 594.7 L223.7 594.7 L222.5 594.8 L221.3 594.5 L220 594.8 L218.8 594.5 L217.6 594.6 L216.4 594.8 L215.1 594.9 L213.9 594.9 L212.7 594.7 L211.5 594.7 L210.2 595 L209 595 L207.8 595 L206.6 595 L205.3 595.3 L204.1 595 L202.9 595 L201.7 595.4 L200.5 595.1 L199.2 595.1 L198 595.2 L196.8 595.4 L195.6 595.6 L194.3 595.4 L193.1 595.4 L191.9 595.7 L190.7 595.5 L189.4 595.4 L188.2 595.4 L187 595.7 L185.8 595.5 L184.5 595.5 L183.3 595.5 L182.1 595.8 L180.9 595.9 L179.7 595.6 L178.4 596 L177.2 596 L176 596 L174.8 595.8 L173.5 596.2 L172.3 595.9 L171.1 595.9 L169.9 596.2 L168.6 596.1 L167.4 595.9 L166.2 595.9 L165 596 L163.7 596.2 L162.5 596.5 L161.3 596.5 L160.1 596.5 L158.9 596.5 L157.6 596.5 L156.4 596.3 L155.2 596.3 L154 596.8 L152.7 596.8 L151.5 596.9 L150.3 596.7 L149.1 596.8 L147.8 597.1 L146.6 596.9 L145.4 596.8 L144.2 597.2 L142.9 597 L141.7 597.1 L140.5 597 L139.3 597 L138.1 597.3 L136.8 597.6 L135.6 597.4 L134.4 597.5 L133.2 597.4 L131.9 597.5 L130.7 597.6 L129.5 597.8 L128.3 597.6 L127 597.9 L125.8 597.7 L124.6 597.8 L123.4 598.2 L122.1 598 L120.9 598.1 L119.7 598.2 L118.5 598.5 L117.3 598.5 L116 598.6 L114.8 598.3 L113.6 598.4 L112.4 598.8 L111.1 598.9 L109.9 598.6 L108.7 598.7 L107.5 598.9 L106.2 599.1 L105 598.8 L103.8 599 L102.6 599 L101.3 599.3 L100.1 598.9 L98.9 599.2 L97.7 599.1 L96.5 599.3 L95.2 599.4 L94 599.6 L92.8 599.5 L91.6 599.6 L90.3 599.6 L89.1 599.5 L87.9 599.6 L86.7 599.6 L85.4 599.8 L84.2 600.1 L83 599.8 L81.8 600.1 L80.5 600.2 L79.3 599.9 L78.1 600.2 L76.9 600.1 L75.7 600.6 L74.4 600.3 L73.2 600.7 L72 600.3 L70.8 600.5 L69.5 600.4 L68.3 600.7 L67.1 600.7 L65.9 601.1 L64.6 600.7 L63.4 601.2 L62.2 601.1 L61 601 L59.7 601.3 L58.5 601.2 L57.3 601.2 L56.1 601.2 L54.9 601.4 L53.6 601.5 L52.4 601.5 L51.2 601.5 L50 601.4 L48.7 601.6 L47.5 601.6 L46.3 601.6 L45.1 602 L43.8 601.9 L42.6 602 L41.4 602.2 L40.2 601.9 L38.9 602.2 L37.7 602.2 L36.5 602.1 Z" fill="#73bf69" fill-opacity="0.4"/>
<path d="M36.5 206.9 L37.7 206.7 L38.9 206.7 L40.2 207 L41.4 207 L42.6 206.9 L43.8 207.2 L45.1 206.8 L46.3 206.9 L47.5 207.4 L48.7 207.3 L50 206.9 L51.2 207.3 L52.4 207.3 L53.6 207.4 L54.9 207.3 L56.1 207.4 L57.3 207 L58.5 207.1 L59.7 207.4 L61 207.6 L62.2 207.4 L63.4 207.6 L64.6 207.5 L65.9 207.5 L67.1 207.3 L68.3 207.1 L69.5 207.2 L70.8 207.2 L72 207.7 L73.2 207.5 L74.4 207.8 L75.7 207.4 L76.9 207.3 L78.1 207.4 L79.3 207.4 L80.5 207.5 L81.8 207.7 L83 207.7 L84.2 207.8 L85.4 207.6 L86.7 207.8 L87.9 207.5 L89.1 207.4 L90.3 207.4 L91.6 208 L92.8 207.6 L94 207.5 L95.2 207.8 L96.5 207.5 L97.7 208 L98.9 208.1 L100.1 207.9 L101.3 208.2 L102.6 207.7 L103.8 208.1 L105 207.8 L106.2 208.3 L107.5 208.2 L108.7 208 L109.9 207.6 L111.1 208.1 L112.4 208.3 L113.6 207.9 L114.8 207.8 L116 208.3 L117.3 208.2 L118.5 208.2 L119.7 208.3 L120.9 208.3 L122.1 208.5 L123.4 208.5 L124.6 207.9 L125.8 208.4 L127 208.5 L128.3 208.3 L129.5 208.6 L130.7 208.6 L131.9 208.5 L133.2 208.1 L134.4 208.1 L135.6 208.6 L136.8 208.4 L138.1 208.6 L139.3 208.4 L140.5 208.2 L141.7 208.2 L142.9 208.5 L144.2 208.5 L145.4 208.5 L146.6 208.7 L147.8 208.7 L149.1 208.6 L150.3 208.6 L151.5 208.5 L152.7 208.8 L154 208.6 L155.2 208.3 L156.4 208.3 L157.6 208.7 L158.9 208.3 L160.1 208.3 L161.3 208.4 L162.5 208.5 L163.7 208.3 L165 208.4 L166.2 208.7 L167.4 208.5 L168.6 208.6 L169.9 208.8 L171.1 208.2 L172.3 208.7 L173.5 208.4 L174.8 208.3 L176 208.5 L177.2 208.1 L178.4 208.1 L179.7 208.6 L180.9 208.1 L182.1 208.3 L183.3 208.2 L184.5 208.2 L185.8 208.1 L187 208.2 L188.2 208.4 L189.4 208 L190.7 208.5 L191.9 208.3 L193.1 208.5 L194.3 208.5 L195.6 208.4 L196.8 208.5 L198 208.2 L199.2 208 L200.5 208.1 L201.7 208.5 L202.9 208.1 L204.1 208.2 L205.3 208.1 L206.6 208.3 L207.8 208.1 L209 208.1 L210.2 208 L211.5 208 L212.7 207.9 L213.9 208 L215.1 208.3 L216.4 208.4 L217.6 208.5 L218.8 208.2 L220 208.4 L221.3 208.3 L222.5 208.1 L223.7 208.3 L224.9 208.2 L226.1 207.7 L227.4 207.8 L228.6 208.1 L229.8 208 L231 208.2 L232.3 208.1 L233.5 207.8 L234.7 208.2 L235.9 208.3 L237.2 208 L238.4 208.1 L239.6 207.7 L240.8 207.8 L242.1 207.6 L243.3 208.1 L244.5 207.9 L245.7 207.7 L246.9 208.2 L248.2 207.9 L249.4 207.9 L250.6 208.2 L251.8 207.6 L253.1 207.6 L254.3 208.1 L255.5 208.1 L256.7 207.5 L258 207.7 L259.2 207.7 L260.4 208 L261.6 208.1 L262.9 207.7 L264.1 208.3 L265.3 207.9 L266.5 207.7 L267.7 208.4 L269 208.2 L270.2 208.5 L271.4 208.4 L272.6 208.4 L273.9 208.6 L275.1 208.5 L276.3 208.8 L277.5 208.5 L278.8 209 L280 208.6 L281.2 208.5 L282.4 209.1 L283.7 209.2 L284.9 208.7 L286.1 208.9 L287.3 208.9 L288.5 209.3 L289.8 209.2 L291 208.9 L292.2 209 L293.4 209.6 L294.7 209.2 L295.9 209.8 L297.1 209.2 L298.3 209.9 L299.6 209.3 L300.8 209.9 L302 209.6 L303.2 209.9 L304.5 210.1 L305.7 209.9 L306.9 210.2 L308.1 210.2 L309.3 210 L310.6 209.9 L311.8 210.3 L313 210.4 L314.2 210.4 L315.5 210.7 L316.7 210.3 L317.9 210.4 L319.1 210.8 L320.4 210.8 L321.6 210.4 L322.8 210.9 L324 211 L325.3 211.3 L326.5 210.8 L327.7 210.9 L328.9 210.9 L330.1 211.3 L331.4 211.2 L332.6 211 L333.8 211.3 L335 211.6 L336.3 211.4 L337.5 211.7 L338.7 211.5 L339.9 211.4 L341.2 211.6 L342.4 212.1 L343.6 212.1 L344.8 211.6 L346.1 212.3 L347.3 212.3 L348.5 212.3 L349.7 211.8 L350.9 212 L352.2 212.2 L353.4 212.4 L354.6 212.3 L355.8 212.6 L357.1 212.8 L358.3 212.6 L359.5 212.5 L360.7 212.7 L362 213 L363.2 213 L364.4 212.7 L365.6 212.6 L366.9 212.8 L368.1 213 L369.3 213.3 L370.5 212.7 L371.7 213.2 L373 213 L374.2 213.2 L375.4 212.8 L376.6 213.1 L377.9 212.9 L379.1 212.9 L380.3 213 L381.5 213.1 L382.8 213.3 L384 213.1 L385.2 213.5 L386.4 212.9 L387.7 213.3 L388.9 213.5 L390.1 213.4 L391.3 213.3 L392.5 213.2 L393.8 213.1 L395 213.1 L396.2 213.4 L397.4 213.1 L398.7 213 L399.9 213.4 L401.1 213.1 L402.3 213.2 L403.6 213.2 L404.8 213.3 L406 213.3 L407.2 213.2 L408.4 213.3 L409.7 213.7 L410.9 213.1 L412.1 213.7 L413.3 213.4 L414.6 213.3 L415.8 213.2 L417 213.8 L418.2 213.8 L419.5 213.2 L420.7 213.8 L421.9 213.3 L423.1 213.5 L424.4 213.3 L425.6 213.6 L426.8 213.4 L428 213.3 L429.2 213.3 L430.5 213.7 L431.7 213.5 L432.9 213.6 L434.1 213.6 L435.4 213.7 L436.6 213.9 L437.8 213.7 L439 213.6 L440.3 213.7 L441.5 213.4 L442.7 213.7 L443.9 213.7 L445.2 214 L446.4 214 L447.6 213.8 L448.8 213.6 L450 213.5 L451.3 213.6 L452.5 214 L453.7 214.1 L454.9 213.8 L456.2 213.6 L457.4 214 L458.6 214.1 L459.8 214 L461.1 213.9 L462.3 213.6 L463.5 213.9 L464.7 214.3 L466 214.1 L467.2 214.1 L468.4 213.8 L469.6 214 L470.8 213.6 L472.1 214.1 L473.3 214.3 L474.5 214.1 L475.7 213.9 L477 213.8 L478.2 213.8 L479.4 213.7 L480.6 213.8 L481.9 214.3 L483.1 213.8 L484.3 214 L485.5 214 L486.8 213.8 L488 214 L489.2 213.7 L490.4 214 L491.6 213.8 L492.9 214.1 L494.1 213.9 L495.3 214.3 L496.5 213.7 L497.8 214 L499 213.8 L500.2 213.7 L501.4 214.1 L502.7 213.8 L503.9 214.2 L505.1 214.1 L506.3 214.3 L507.6 213.8 L508.8 214.2 L510 213.9 L511.2 214.1 L512.4 214.3 L513.7 214.1 L514.9 214.2 L516.1 213.8 L517.3 214.3 L518.6 213.7 L519.8 213.7 L521 214.1 L522.2 214.2 L523.5 213.9 L524.7 214.3 L525.9 214.3 L527.1 213.8 L528.4 214.2 L529.6 214.2 L530.8 213.7 L532 213.8 L533.2 213.7 L534.5 214.2 L535.7 214.3 L536.9 214.1 L538.1 214 L539.4 214.1 L540.6 214.3 L541.8 213.8 L543 214.2 L544.3 214 L545.5 213.8 L546.7 214.2 L547.9 213.8 L549.2 214 L550.4 213.7 L551.6 214.2 L552.8 213.9 L554 213.7 L555.3 213.8 L556.5 214 L557.7 213.8 L558.9 214.2 L560.2 213.9 L561.4 214.2 L562.6 213.8 L563.8 214.1 L565.1 214.3 L566.3 213.9 L567.5 213.8 L568.7 213.9 L570 213.9 L571.2 214.2 L572.4 213.7 L573.6 214.2 L574.8 213.8 L576.1 213.8 L577.3 213.9 L578.5 213.9 L579.7 213.7 L581 214 L582.2 213.9 L583.4 213.6 L584.6 214 L585.9 213.9 L587.1 213.6 L588.3 213.6 L589.5 213.8 L590.8 213.6 L592 213.7 L593.2 213.7 L594.4 213.5 L595.6 213.5 L596.9 213.8 L598.1 213.5 L599.3 213.4 L600.5 213.4 L601.8 213.2 L603 213.5 L604.2 213.2 L605.4 213.2 L606.7 213.2 L607.9 213 L609.1 213.5 L610.3 213.4 L611.6 212.9 L612.8 213.2 L614 212.9 L615.2 213.1 L616.4 213 L617.7 212.7 L618.9 213.2 L620.1 212.7 L621.3 212.5 L622.6 212.7 L623.8 212.8 L625 212.7 L626.2 212.4 L627.5 212.9 L628.7 212.8 L629.9 213 L631.1 212.4 L632.4 212.8 L633.6 212.9 L634.8 212.8 L636 212.6 L637.2 212.7 L638.5 212.5 L639.7 212.7 L640.9 212.2 L642.1 212.1 L643.4 212.3 L644.6 212.6 L645.8 212.2 L647 212.5 L648.3 212.5 L649.5 212.3 L650.7 212.3 L651.9 212.5 L653.2 212.4 L654.4 212.1 L655.6 211.9 L656.8 212.2 L658 211.9 L659.3 211.8 L660.5 211.9 L661.7 212.2 L662.9 211.7 L664.2 211.9 L665.4 211.5 L666.6 211.8 L667.8 211.4 L669.1 211.8 L670.3 212 L671.5 211.7 L672.7 211.7 L674 211.5 L675.2 211.3 L676.4 211.8 L677.6 211.7 L678.8 211.3 L680.1 211.3 L681.3 211.7 L682.5 211 L683.7 211.4 L685 211 L686.2 211.6 L687.4 211.2 L688.6 211 L689.9 210.8 L691.1 211.5 L692.3 210.9 L693.5 210.9 L694.8 210.8 L696 211.3 L697.2 211.1 L698.4 211.3 L699.6 211.1 L700.9 211 L702.1 210.8 L703.3 211.1 L704.5 210.7 L705.8 210.9 L707 210.7 L708.2 210.7 L709.4 211 L710.7 210.5 L711.9 210.8 L713.1 210.7 L714.3 210.7 L715.6 210.8 L716.8 210.6 L718 210.4 L719.2 210.4 L720.4 210.7 L721.7 210.6 L722.9 210.2 L724.1 210.5 L725.3 210 L726.6 210.1 L727.8 210.1 L729 210.2 L730.2 210.4 L731.5 209.9 L732.7 210 L733.9 210.4 L735.1 210.2 L736.4 209.8 L737.6 210.1 L738.8 209.8 L740 209.9 L741.2 210.1 L742.5 209.8 L743.7 209.6 L744.9 209.8 L746.1 210 L747.4 210 L748.6 209.6 L749.8 209.5 L751 209.7 L752.3 210 L753.5 209.7 L754.7 209.9 L755.9 209.7 L757.2 209.5 L758.4 209.9 L759.6 209.2 L760.8 209.7 L762 209.1 L763.3 209.5 L764.5 209.1 L765.7 209.5 L766.9 209.5 L768.2 209.1 L769.4 209 L770.6 209.4 L771.8 209 L773.1 209 L774.3 209.4 L775.5 208.8 L776.7 209.2 L778 209.3 L779.2 208.8 L780.4 209.1 L781.6 209.2 L782.8 208.6 L784.1 208.7 L785.3 208.6 L786.5 209 L787.7 208.7 L789 208.4 L790.2 208.4 L791.4 208.7 L792.6 208.6 L793.9 208.1 L795.1 208.4 L796.3 207.8 L797.5 207.9 L798.8 207.8 L800 207.7 L801.2 207.7 L802.4 207.9 L803.6 207.6 L804.9 207.9 L806.1 207.3 L807.3 207.7 L808.5 207.4 L809.8 207.4 L811 207.4 L812.2 207.1 L813.4 207 L814.7 206.8 L815.9 207.1 L817.1 207.3 L818.3 207.1 L819.6 206.6 L820.8 206.9 L822 206.8 L823.2 206.5 L824.4 206.5 L825.7 206.3 L826.9 206.2 L828.1 206.5 L829.3 206.7 L830.6 206.1 L831.8 206.1 L833 206 L834.2 205.9 L835.5 205.9 L836.7 206 L837.9 206 L839.1 206.1 L840.4 205.7 L841.6 206 L842.8 206 L844 206 L845.2 205.5 L846.5 205.5 L847.7 205.5 L848.9 205.7 L850.1 205.4 L851.4 205.5 L852.6 205 L853.8 205.2 L855 204.9 L856.3 205.3 L857.5 205.1 L858.7 205.2 L859.9 204.8 L861.2 204.5 L862.4 204.6 L863.6 204.3 L864.8 204.6 L866 204.3 L867.3 204.5 L868.5 204.2 L869.7 204.3 L870.9 203.9 L872.2 204 L873.4 204 L874.6 204.2 L875.8 204.3 L877.1 203.9 L878.3 203.6 L879.5 204 L880.7 203.6 L882 203.9 L883.2 203.8 L884.4 203.5 L885.6 203.8 L886.8 203.1 L888.1 203.4 L889.3 203.2 L890.5 203.3 L891.7 203.1 L893 203 L894.2 202.8 L895.4 202.9 L896.6 202.6 L897.9 202.8 L899.1 202.5 L900.3 202.8 L901.5 202.7 L902.8 202.4 L904 202.4 L905.2 202.2 L906.4 202 L907.6 201.9 L908.9 201.9 L910.1 201.7 L911.3 202 L912.5 201.6 L913.8 201.4 L915 201.2 L916.2 201.6 L917.4 201.5 L918.7 201.5 L919.9 200.8 L921.1 201 L922.3 201 L923.6 201.2 L924.8 200.7 L926 200.8 L927.2 200.8 L928.4 200.2 L929.7 200.2 L930.9 200.6 L932.1 199.9 L933.3 199.8 L934.6 200 L935.8 200.1 L937 200 L938.2 199.6 L939.5 199.4 L940.7 199.5 L941.9 199.2 L943.1 199.7 L944.4 199.1 L945.6 199.4 L946.8 199.3 L948 199.3 L949.2 198.7 L950.5 198.6 L951.7 198.7 L952.9 198.4 L954.1 198.9 L955.4 198.2 L956.6 198.3 L957.8 198.5 L959 198 L960.3 197.8 L961.5 197.8 L962.7 197.8 L963.9 197.8 L965.2 197.5 L966.4 197.6 L967.6 197.9 L968.8 197.5 L970 197.2 L971.3 197.2 L972.5 197 L973.7 197.1 L974.9 197.2 L976.2 197 L977.4 196.6 L978.6 196.6 L979.8 196.7 L981.1 196.5 L982.3 196.3 L983.5 196.3 L984.7 196.5 L986 196 L987.2 196.3 L988.4 196 L989.6 195.8 L990.8 196 L992.1 196.1 L993.3 195.4 L994.5 195.4 L995.7 195.2 L997 195.2 L998.2 195.4 L999.4 195.2 L1000.6 195.2 L1001.9 194.5 L1003.1 194.3 L1004.3 194.7 L1005.5 194.5 L1006.8 194.1 L1008 193.9 L1009.2 193.9 L1010.4 194 L1011.6 193.6 L1012.9 193.4 L1014.1 193.1 L1015.3 193.3 L1016.5 193.1 L1017.8 192.9 L1019 192.7 L1020.2 192.5 L1021.4 192.6 L1022.7 192.3 L1023.9 192.1 L1025.1 191.8 L1026.3 192.1 L1027.6 191.5 L1028.8 191.6 L1030 191.2 L1031.2 191.1 L1032.4 191 L1033.7 190.8 L1034.9 190.8 L1036.1 190.4 L1037.3 190.3 L1038.6 190.5 L1039.8 190.3 L1041 189.8 L1042.2 190.1 L1043.5 189.7 L1044.7 189.4 L1045.9 189.4 L1047.1 189.7 L1048.4 189.5 L1049.6 189 L1050.8 188.9 L1052 188.8 L1053.2 188.4 L1054.5 188.8 L1055.7 188.7 L1056.9 188 L1058.1 187.8 L1059.4 187.9 L1060.6 187.5 L1061.8 187.8 L1063 187.8 L1064.3 187.2 L1065.5 187.2 L1066.7 187.4 L1067.9 187.1 L1069.2 187.3 L1070.4 187 L1071.6 187.6 L1072.8 187.6 L1074 187.5 L1075.3 187.4 L1076.5 187.6 L1077.7 187.2 L1078.9 187 L1080.2 187.3 L1081.4 187.2 L1082.6 187.3 L1083.8 187 L1085.1 187.3 L1086.3 187.1 L1087.5 187.1 L1088.7 187.1 L1090 187.3 L1091.2 187.2 L1092.4 187.6 L1093.6 187.5 L1094.8 187.5 L1096.1 187.2 L1097.3 187.3 L1098.5 187.5 L1099.7 187.2 L1101 187.1 L1102.2 187.2 L1103.4 187.5 L1104.6 187.5 L1105.9 187.1 L1107.1 187.4 L1108.3 187.4 L1109.5 186.9 L1110.8 187.2 L1112 187.4 L1113.2 186.9 L1114.4 187.1 L1115.6 186.8 L1116.9 187.1 L1118.1 186.9 L1119.3 187 L1120.5 187.3 L1121.8 186.7 L1123 187.1 L1124.2 187.1 L1125.4 186.9 L1126.7 186.8 L1127.9 186.6 L1129.1 187.1 L1130.3 186.6 L1131.6 186.8 L1132.8 186.4 L1134 186.4 L1135.2 186.4 L1136.4 186.5 L1137.7 186.5 L1138.9 187 L1140.1 186.7 L1141.3 186.8 L1142.6 186.5 L1143.8 186.8 L1145 186.4 L1146.2 186.5 L1147.5 186.5 L1148.7 186.4 L1149.9 186.5 L1151.1 186.3 L1152.3 186.1 L1153.6 186.4 L1154.8 186.2 L1156 186.2 L1157.2 186.7 L1158.5 186.4 L1159.7 186.4 L1160.9 186.5 L1162.1 186 L1163.4 186.1 L1164.6 186 L1165.8 186 L1167 186.2 L1168.3 185.9 L1169.5 186.2 L1170.7 186.4 L1171.9 185.9 L1173.1 186.2 L1174.4 185.9 L1175.6 186 L1176.8 185.7 L1178 186.1 L1179.3 186 L1180.5 185.6 L1181.7 186.3 L1182.9 186.1 L1184.2 185.6 L1185.4 185.6 L1186.6 185.9 L1187.8 185.9 L1189.1 186 L1190.3 186 L1191.5 185.9 L1192.7 185.6 L1193.9 185.5 L1195.2 185.8 L1196.4 186 L1197.6 185.4 L1198.8 185.3 L1200.1 185.4 L1201.3 185.3 L1202.5 185.9 L1203.7 185.7 L1205 185.5 L1206.2 185.7 L1207.4 185.7 L1208.6 185.1 L1209.9 185.6 L1211.1 185.2 L1212.3 185.3 L1213.5 185 L1214.7 184.9 L1216 184.9 L1217.2 185 L1218.4 185.2 L1219.6 185.1 L1220.9 184.8 L1222.1 184.9 L1223.3 184.7 L1224.5 184.9 L1225.8 184.8 L1227 184.8 L1228.2 184.2 L1229.4 184.7 L1230.7 184 L1231.9 184 L1233.1 184.4 L1234.3 183.8 L1235.5 184.2 L1236.8 183.8 L1238 183.6 L1239.2 184.2 L1240.4 183.6 L1241.7 183.9 L1242.9 183.7 L1244.1 183.7 L1245.3 183.4 L1246.6 183.7 L1247.8 183.3 L1249 183.5 L1250.2 183.3 L1251.5 183.4 L1252.7 183.4 L1253.9 183.4 L1255.1 183.1 L1256.3 183 L1257.6 183.4 L1258.8 183.3 L1260 182.8 L1261.2 182.6 L1262.5 183.1 L1263.7 182.6 L1264.9 182.6 L1266.1 182.8 L1267.4 182.6 L1268.6 182.6 L1269.8 182.6 L1271 182.5 L1272.3 182.4 L1273.5 182.4 L1274.7 182.2 L1275.9 182.2 L1277.1 182.4 L1278.4 182.1 L1279.6 181.8 L1280.8 182 L1282 182.1 L1283.3 182.1 L1284.5 181.5 L1285.7 181.6 L1286.9 181.6 L1288.2 181.9 L1289.4 181.5 L1290.6 181.2 L1291.8 181.4 L1293.1 181.2 L1294.3 181.1 L1295.5 181 L1296.7 181.1 L1297.9 180.8 L1299.2 180.9 L1300.4 181.1 L1301.6 180.9 L1302.8 180.7 L1304.1 181 L1305.3 180.8 L1306.5 181 L1307.7 180.8 L1309 180.8 L1310.2 180.5 L1311.4 180.2 L1312.6 180.5 L1313.9 180.5 L1315.1 180.5 L1316.3 180.6 L1317.5 180.1 L1318.7 180.7 L1320 180.3 L1321.2 180.2 L1322.4 180.5 L1323.6 180.6 L1324.9 180.6 L1326.1 180.8 L1327.3 180.2 L1328.5 180.1 L1329.8 180.2 L1331 180.7 L1332.2 180.3 L1333.4 180.6 L1334.7 180.2 L1335.9 180.4 L1337.1 180.4 L1338.3 180.6 L1339.5 180.4 L1340.8 180.4 L1342 180.2 L1343.2 180.2 L1344.4 180.4 L1345.7 180.3 L1346.9 180.3 L1348.1 180.6 L1349.3 180.1 L1350.6 180.5 L1351.8 180.4 L1353 180.5 L1354.2 180.1 L1355.5 180.5 L1356.7 180.4 L1357.9 180.4 L1359.1 180.4 L1360.3 180.1 L1361.6 180.1 L1362.8 180.5 L1364 180 L1365.2 180.2 L1366.5 180.3 L1367.7 179.9 L1368.9 180.2 L1370.1 180.4 L1371.4 180.6 L1372.6 180.1 L1373.8 180.2 L1375 180.2 L1376.3 180.2 L1377.5 180 L1378.7 180 L1379.9 180.2 L1381.1 180.5 L1382.4 180 L1383.6 180.3 L1384.8 180 L1386 179.9 L1387.3 180.2 L1388.5 180.1 L1389.7 179.9 L1390.9 180 L1392.2 179.9 L1393.4 180.3 L1394.6 179.9 L1395.8 179.8 L1397.1 179.8 L1398.3 180.1 L1399.5 179.9 L1400.7 179.8 L1401.9 180.1 L1403.2 180.4 L1404.4 180.1 L1405.6 180.2 L1406.8 179.7 L1408.1 179.9 L1409.3 180.1 L1410.5 180.2 L1411.7 179.8 L1413 179.7 L1414.2 180.2 L1415.4 180 L1416.6 180.3 L1417.9 179.7 L1419.1 180.1 L1420.3 179.7 L1421.5 179.8 L1422.7 180.1 L1424 180.1 L1425.2 180 L1426.4 180.1 L1427.6 180 L1428.9 180.2 L1430.1 179.6 L1431.3 180.1 L1432.5 180 L1433.8 180 L1435 179.6 L1436.2 180.1 L1437.4 179.9 L1438.7 179.5 L1439.9 179.5 L1441.1 179.8 L1442.3 179.9 L1443.5 180 L1444.8 179.4 L1446 179.5 L1447.2 179.8 L1448.4 179.3 L1449.7 179.6 L1450.9 179.5 L1452.1 179.8 L1453.3 179.3 L1454.6 179.5 L1455.8 179.3 L1457 179.8 L1458.2 179.8 L1459.5 179.8 L1460.7 179.4 L1461.9 179.5 L1463.1 179.7 L1464.3 179.1 L1465.6 179.4 L1466.8 179.3 L1468 179.7 L1469.2 179.7 L1470.5 179.1 L1471.7 179.7 L1472.9 179.4 L1474.1 179.5 L1475.4 179.2 L1476.6 179.5 L1477.8 179.3 L1479 179.4 L1480.3 179.1 L1481.5 179.5 L1482.7 179.3 L1483.9 179.4 L1485.1 179.4 L1486.4 179.1 L1487.6 179.4 L1488.8 179.5 L1490 179 L1491.3 179.4 L1492.5 178.9 L1493.7 178.9 L1494.9 179 L1496.2 179 L1497.4 178.9 L1498.6 178.8 L1499.8 178.8 L1501.1 179 L1502.3 178.8 L1503.5 179.2" fill="none" stroke="#6cb863" stroke-width="1.2"/>
<path d="M36.5 602.1 L37.7 602.2 L38.9 602.2 L40.2 601.9 L41.4 602.2 L42.6 602 L43.8 601.9 L45.1 602 L46.3 601.6 L47.5 601.6 L48.7 601.6 L50 601.4 L51.2 601.5 L52.4 601.5 L53.6 601.5 L54.9 601.4 L56.1 601.2 L57.3 601.2 L58.5 601.2 L59.7 601.3 L61 601 L62.2 601.1 L63.4 601.2 L64.6 600.7 L65.9 601.1 L67.1 600.7 L68.3 600.7 L69.5 600.4 L70.8 600.5 L72 600.3 L73.2 600.7 L74.4 600.3 L75.7 600.6 L76.9 600.1 L78.1 600.2 L79.3 599.9 L80.5 600.2 L81.8 600.1 L83 599.8 L84.2 600.1 L85.4 599.8 L86.7 599.6 L87.9 599.6 L89.1 599.5 L90.3 599.6 L91.6 599.6 L92.8 599.5 L94 599.6 L95.2 599.4 L96.5 599.3 L97.7 599.1 L98.9 599.2 L100.1 598.9 L101.3 599.3 L102.6 599 L103.8 599 L105 598.8 L106.2 599.1 L107.5 598.9 L108.7 598.7 L109.9 598.6 L111.1 598.9 L112.4 598.8 L113.6 598.4 L114.8 598.3 L116 598.6 L117.3 598.5 L118.5 598.5 L119.7 598.2 L120.9 598.1 L122.1 598 L123.4 598.2 L124.6 597.8 L125.8 597.7 L127 597.9 L128.3 597.6 L129.5 597.8 L130.7 597.6 L131.9 597.5 L133.2 597.4 L134.4 597.5 L135.6 597.4 L136.8 597.6 L138.1 597.3 L139.3 597 L140.5 597 L141.7 597.1 L142.9 597 L144.2 597.2 L145.4 596.8 L146.6 596.9 L147.8 597.1 L149.1 596.8 L150.3 596.7 L151.5 596.9 L152.7 596.8 L154 596.8 L155.2 596.3 L156.4 596.3 L157.6 596.5 L158.9 596.5 L160.1 596.5 L161.3 596.5 L162.5 596.5 L163.7 596.2 L165 596 L166.2 595.9 L167.4 595.9 L168.6 596.1 L169.9 596.2 L171.1 595.9 L172.3 595.9 L173.5 596.2 L174.8 595.8 L176 596 L177.2 596 L178.4 596 L179.7 595.6 L180.9 595.9 L182.1 595.8 L183.3 595.5 L184.5 595.5 L185.8 595.5 L187 595.7 L188.2 595.4 L189.4 595.4 L190.7 595.5 L191.9 595.7 L193.1 595.4 L194.3 595.4 L195.6 595.6 L196.8 595.4 L198 595.2 L199.2 595.1 L200.5 595.1 L201.7 595.4 L202.9 595 L204.1 595 L205.3 595.3 L206.6 595 L207.8 595 L209 595 L210.2 595 L211.5 594.7 L212.7 594.7 L213.9 594.9 L215.1 594.9 L216.4 594.8 L217.6 594.6 L218.8 594.5 L220 594.8 L221.3 594.5 L222.5 594.8 L223.7 594.7 L224.9 594.7 L226.1 594.4 L227.4 594.7 L228.6 594.6 L229.8 594.2 L231 594.4 L232.3 594.2 L233.5 594.1 L234.7 594.2 L235.9 594.3 L237.2 594.4 L238.4 594.3 L239.6 594.1 L240.8 594.2 L242.1 594 L243.3 594.2 L244.5 594 L245.7 594.2 L246.9 594.2 L248.2 594.1 L249.4 593.8 L250.6 593.8 L251.8 593.9 L253.1 594 L254.3 593.9 L255.5 593.8 L256.7 593.7 L258 593.5 L259.2 593.8 L260.4 593.8 L261.6 593.7 L262.9 593.5 L264.1 593.6 L265.3 593.4 L266.5 593.6 L267.7 593.3 L269 593.2 L270.2 593.5 L271.4 593.5 L272.6 593.3 L273.9 593.2 L275.1 593 L276.3 592.9 L277.5 593 L278.8 592.9 L280 593 L281.2 592.8 L282.4 592.9 L283.7 593.1 L284.9 592.7 L286.1 592.6 L287.3 592.8 L288.5 592.6 L289.8 592.6 L291 592.5 L292.2 592.6 L293.4 592.4 L294.7 592.4 L295.9 592.6 L297.1 592.2 L298.3 592.3 L299.6 592.3 L300.8 592.4 L302 592 L303.2 592.3 L304.5 592.2 L305.7 592.1 L306.9 591.9 L308.1 591.9 L309.3 592 L310.6 591.7 L311.8 591.8 L313 591.6 L314.2 592 L315.5 591.8 L316.7 592 L317.9 591.4 L319.1 591.6 L320.4 591.8 L321.6 591.5 L322.8 591.4 L324 591.5 L325.3 591.3 L326.5 591.3 L327.7 591.6 L328.9 591.2 L330.1 591.5 L331.4 591.1 L332.6 591 L333.8 591.3 L335 591.3 L336.3 590.9 L337.5 590.8 L338.7 590.9 L339.9 590.7 L341.2 591.1 L342.4 590.7 L343.6 591 L344.8 590.7 L346.1 590.6 L347.3 590.4 L348.5 590.8 L349.7 590.4 L350.9 590.7 L352.2 590.4 L353.4 590.3 L354.6 590.3 L355.8 590.6 L357.1 590.1 L358.3 590.5 L359.5 590.1 L360.7 590.4 L362 590.3 L363.2 590.2 L364.4 590 L365.6 589.9 L366.9 589.8 L368.1 589.9 L369.3 590.2 L370.5 589.7 L371.7 589.9 L373 590 L374.2 590 L375.4 590 L376.6 589.8 L377.9 589.7 L379.1 590 L380.3 589.7 L381.5 589.6 L382.8 590 L384 589.9 L385.2 589.5 L386.4 589.5 L387.7 589.9 L388.9 589.6 L390.1 589.8 L391.3 589.6 L392.5 589.4 L393.8 589.6 L395 589.3 L396.2 589.3 L397.4 589.6 L398.7 589.3 L399.9 589.5 L401.1 589.5 L402.3 589.3 L403.6 589.4 L404.8 589.5 L406 589.2 L407.2 589.1 L408.4 589.4 L409.7 589.2 L410.9 589.3 L412.1 589 L413.3 589.2 L414.6 589.2 L415.8 589.2 L417 589 L418.2 589.4 L419.5 589.3 L420.7 589.1 L421.9 589.2 L423.1 589.2 L424.4 588.9 L425.6 588.9 L426.8 589.1 L428 589 L429.2 589.1 L430.5 588.9 L431.7 588.8 L432.9 588.9 L434.1 588.6 L435.4 588.7 L436.6 588.8 L437.8 588.6 L439 588.5 L440.3 588.5 L441.5 588.8 L442.7 588.5 L443.9 588.9 L445.2 588.9 L446.4 588.5 L447.6 588.8 L448.8 588.7 L450 588.5 L451.3 588.7 L452.5 588.3 L453.7 588.4 L454.9 588.4 L456.2 588.3 L457.4 588.6 L458.6 588.2 L459.8 588.3 L461.1 588.4 L462.3 588.6 L463.5 588.5 L464.7 588.3 L466 588.3 L467.2 588 L468.4 588.3 L469.6 588.3 L470.8 588 L472.1 588.2 L473.3 588 L474.5 587.9 L475.7 588 L477 588.2 L478.2 588.2 L479.4 588.3 L480.6 587.9 L481.9 588.2 L483.1 587.9 L484.3 588 L485.5 588.3 L486.8 588.3 L488 588 L489.2 588.2 L490.4 588.3 L491.6 588.1 L492.9 588.2 L494.1 587.9 L495.3 588.1 L496.5 588.2 L497.8 588.1 L499 587.8 L500.2 587.9 L501.4 588.1 L502.7 588 L503.9 587.9 L505.1 588.1 L506.3 587.7 L507.6 588 L508.8 587.8 L510 587.7 L511.2 588 L512.4 587.8 L513.7 588 L514.9 587.9 L516.1 587.9 L517.3 587.6 L518.6 588 L519.8 587.5 L521 587.8 L522.2 587.5 L523.5 587.9 L524.7 587.5 L525.9 588 L527.1 587.5 L528.4 587.9 L529.6 587.8 L530.8 587.5 L532 587.6 L533.2 587.5 L534.5 587.6 L535.7 587.6 L536.9 587.4 L538.1 587.8 L539.4 587.6 L540.6 587.4 L541.8 587.3 L543 587.8 L544.3 587.6 L545.5 587.6 L546.7 587.4 L547.9 587.4 L549.2 587.3 L550.4 587.7 L551.6 587.6 L552.8 587.4 L554 587.7 L555.3 587.4 L556.5 587.4 L557.7 587.4 L558.9 587.6 L560.2 587.3 L561.4 587.5 L562.6 587.4 L563.8 587.2 L565.1 587.3 L566.3 587.5 L567.5 587.2 L568.7 587.4 L570 587.2 L571.2 587.1 L572.4 587.3 L573.6 587.4 L574.8 587.4 L576.1 587.2 L577.3 587.4 L578.5 587.4 L579.7 587.3 L581 587.5 L582.2 587.4 L583.4 587.4 L584.6 587.4 L585.9 587.3 L587.1 587.3 L588.3 587.4 L589.5 587.1 L590.8 587.3 L592 587.4 L593.2 587.4 L594.4 587.4 L595.6 587 L596.9 587.2 L598.1 587.2 L599.3 587.3 L600.5 587.1 L601.8 587.3 L603 587 L604.2 586.9 L605.4 586.9 L606.7 587.3 L607.9 587 L609.1 587.2 L610.3 587.1 L611.6 587.3 L612.8 587.1 L614 587.4 L615.2 587.3 L616.4 587 L617.7 587.3 L618.9 587 L620.1 587.1 L621.3 587.2 L622.6 587 L623.8 587.1 L625 587.3 L626.2 587.2 L627.5 586.9 L628.7 586.8 L629.9 587.1 L631.1 586.9 L632.4 587 L633.6 587.2 L634.8 587.1 L636 587.2 L637.2 586.9 L638.5 587.1 L639.7 587 L640.9 586.8 L642.1 587 L643.4 587 L644.6 586.7 L645.8 587 L647 586.9 L648.3 586.7 L649.5 586.7 L650.7 587.2 L651.9 586.9 L653.2 586.7 L654.4 586.8 L655.6 586.9 L656.8 586.8 L658 586.9 L659.3 587.1 L660.5 586.8 L661.7 587 L662.9 586.8 L664.2 586.9 L665.4 587 L666.6 586.6 L667.8 586.7 L669.1 586.9 L670.3 586.9 L671.5 586.9 L672.7 586.7 L674 587 L675.2 586.6 L676.4 586.9 L677.6 587 L678.8 586.7 L680.1 586.8 L681.3 586.6 L682.5 586.6 L683.7 587 L685 586.8 L686.2 587.1 L687.4 586.6 L688.6 586.7 L689.9 586.9 L691.1 586.6 L692.3 586.6 L693.5 587 L694.8 587 L696 587 L697.2 587 L698.4 586.8 L699.6 586.6 L700.9 587.1 L702.1 587 L703.3 586.9 L704.5 587 L705.8 586.7 L707 587 L708.2 586.9 L709.4 587.1 L710.7 586.7 L711.9 587.1 L713.1 587.2 L714.3 586.9 L715.6 586.9 L716.8 587.2 L718 586.7 L719.2 587 L720.4 586.8 L721.7 587.2 L722.9 587.2 L724.1 587.2 L725.3 587.1 L726.6 587.2 L727.8 587.1 L729 586.9 L730.2 587.2 L731.5 587.2 L732.7 587.1 L733.9 587.1 L735.1 586.9 L736.4 587.2 L737.6 587 L738.8 586.9 L740 586.9 L741.2 586.9 L742.5 587.1 L743.7 587.4 L744.9 587.2 L746.1 587.1 L747.4 587.3 L748.6 586.9 L749.8 586.9 L751 587.3 L752.3 587.4 L753.5 587.1 L754.7 587.1 L755.9 587.4 L757.2 587.2 L758.4 587.4 L759.6 587.1 L760.8 587.4 L762 587.4 L763.3 587.5 L764.5 587.3 L765.7 587.1 L766.9 587 L768.2 587.1 L769.4 587.1 L770.6 587 L771.8 587 L773.1 587.5 L774.3 587.1 L775.5 587.5 L776.7 587.3 L778 587.3 L779.2 587.2 L780.4 587.3 L781.6 587.2 L782.8 587.2 L784.1 587.2 L785.3 587.5 L786.5 587.1 L787.7 587.2 L789 587.3 L790.2 587.6 L791.4 587.2 L792.6 587.2 L793.9 587.7 L795.1 587.3 L796.3 587.6 L797.5 587.4 L798.8 587.5 L800 587.6 L801.2 587.3 L802.4 587.5 L803.6 587.5 L804.9 587.5 L806.1 587.6 L807.3 587.3 L808.5 587.7 L809.8 587.3 L811 587.7 L812.2 587.7 L813.4 587.5 L814.7 587.6 L815.9 587.4 L817.1 587.8 L818.3 587.6 L819.6 587.8 L820.8 587.6 L822 587.4 L823.2 587.5 L824.4 587.8 L825.7 587.8 L826.9 587.7 L828.1 587.8 L829.3 587.8 L830.6 587.7 L831.8 587.5 L833 587.8 L834.2 587.8 L835.5 587.9 L836.7 587.7 L837.9 587.7 L839.1 587.7 L840.4 587.8 L841.6 588 L842.8 587.6 L844 588 L845.2 587.9 L846.5 587.6 L847.7 587.6 L848.9 588 L850.1 588 L851.4 587.6 L852.6 588 L853.8 588.1 L855 587.9 L856.3 587.8 L857.5 587.7 L858.7 587.9 L859.9 588 L861.2 587.8 L862.4 587.9 L863.6 588 L864.8 588 L866 588.1 L867.3 588.1 L868.5 587.9 L869.7 588 L870.9 588 L872.2 588.1 L873.4 588.3 L874.6 587.9 L875.8 588 L877.1 588.1 L878.3 588 L879.5 587.9 L880.7 588.2 L882 588.3 L883.2 588.3 L884.4 588.3 L885.6 588 L886.8 588.3 L888.1 588.4 L889.3 588.3 L890.5 588.1 L891.7 588.3 L893 588.3 L894.2 588.5 L895.4 588.4 L896.6 588.3 L897.9 588.3 L899.1 588.7 L900.3 588.5 L901.5 588.4 L902.8 588.7 L904 588.8 L905.2 588.8 L906.4 588.8 L907.6 589.1 L908.9 588.8 L910.1 589 L911.3 589.3 L912.5 589.2 L913.8 589.2 L915 589.1 L916.2 589.3 L917.4 589.4 L918.7 589.6 L919.9 589.3 L921.1 589.3 L922.3 589.6 L923.6 589.7 L924.8 589.8 L926 589.5 L927.2 589.8 L928.4 589.8 L929.7 589.9 L930.9 589.9 L932.1 589.8 L933.3 589.8 L934.6 590.2 L935.8 589.9 L937 590.1 L938.2 590.1 L939.5 590.5 L940.7 590.3 L941.9 590.6 L943.1 590.4 L944.4 590.3 L945.6 590.4 L946.8 590.5 L948 590.6 L949.2 590.6 L950.5 590.7 L951.7 590.9 L952.9 590.8 L954.1 590.8 L955.4 591 L956.6 590.8 L957.8 591 L959 591 L960.3 591.3 L961.5 591.3 L962.7 591.4 L963.9 591.5 L965.2 591.3 L966.4 591.7 L967.6 591.5 L968.8 591.4 L970 591.8 L971.3 591.5 L972.5 591.9 L973.7 591.8 L974.9 591.7 L976.2 591.8 L977.4 591.7 L978.6 592 L979.8 591.9 L981.1 591.8 L982.3 591.9 L983.5 592.1 L984.7 592.4 L986 592.2 L987.2 592.4 L988.4 592.5 L989.6 592.6 L990.8 592.3 L992.1 592.6 L993.3 592.4 L994.5 592.5 L995.7 592.6 L997 592.9 L998.2 592.7 L999.4 592.7 L1000.6 593 L1001.9 593.1 L1003.1 592.8 L1004.3 592.9 L1005.5 592.8 L1006.8 593.2 L1008 592.9 L1009.2 593.4 L1010.4 593.4 L1011.6 593 L1012.9 593.3 L1014.1 593.5 L1015.3 593.5 L1016.5 593.7 L1017.8 593.4 L1019 593.5 L1020.2 593.4 L1021.4 593.5 L1022.7 593.6 L1023.9 593.6 L1025.1 593.8 L1026.3 593.8 L1027.6 593.9 L1028.8 594 L1030 593.8 L1031.2 593.7 L1032.4 594.1 L1033.7 594 L1034.9 593.9 L1036.1 594.4 L1037.3 594.3 L1038.6 594 L1039.8 594.1 L1041 594.5 L1042.2 594.6 L1043.5 594.3 L1044.7 594.6 L1045.9 594.3 L1047.1 594.8 L1048.4 594.7 L1049.6 594.5 L1050.8 594.6 L1052 594.9 L1053.2 594.8 L1054.5 594.9 L1055.7 594.8 L1056.9 594.8 L1058.1 595 L1059.4 595.2 L1060.6 595 L1061.8 594.8 L1063 595.1 L1064.3 595.1 L1065.5 594.9 L1066.7 595.2 L1067.9 594.9 L1069.2 594.9 L1070.4 594.9 L1071.6 595.2 L1072.8 595.2 L1074 594.8 L1075.3 594.9 L1076.5 595 L1077.7 594.9 L1078.9 594.8 L1080.2 594.8 L1081.4 595 L1082.6 595 L1083.8 594.8 L1085.1 594.8 L1086.3 594.8 L1087.5 595 L1088.7 595 L1090 595 L1091.2 594.8 L1092.4 595 L1093.6 594.8 L1094.8 594.8 L1096.1 594.8 L1097.3 595.1 L1098.5 594.8 L1099.7 594.8 L1101 594.9 L1102.2 595.2 L1103.4 595 L1104.6 594.8 L1105.9 595.1 L1107.1 594.8 L1108.3 595.2 L1109.5 595.1 L1110.8 595.2 L1112 595.1 L1113.2 595 L1114.4 594.8 L1115.6 595.2 L1116.9 594.9 L1118.1 594.8 L1119.3 595.1 L1120.5 594.8 L1121.8 595 L1123 594.8 L1124.2 595.1 L1125.4 594.8 L1126.7 595.2 L1127.9 594.9 L1129.1 595 L1130.3 594.9 L1131.6 594.9 L1132.8 595 L1134 595 L1135.2 594.8 L1136.4 594.9 L1137.7 595 L1138.9 595.2 L1140.1 595.1 L1141.3 595.1 L1142.6 594.9 L1143.8 595.2 L1145 595.1 L1146.2 595.1 L1147.5 595 L1148.7 594.9 L1149.9 594.9 L1151.1 594.9 L1152.3 595.2 L1153.6 595 L1154.8 594.8 L1156 595.1 L1157.2 594.9 L1158.5 594.8 L1159.7 595.2 L1160.9 595 L1162.1 595 L1163.4 594.9 L1164.6 594.9 L1165.8 594.9 L1167 595.2 L1168.3 595.1 L1169.5 594.8 L1170.7 594.9 L1171.9 595 L1173.1 595.2 L1174.4 595.1 L1175.6 595.1 L1176.8 595 L1178 594.9 L1179.3 594.9 L1180.5 595.2 L1181.7 594.8 L1182.9 594.9 L1184.2 594.8 L1185.4 595.2 L1186.6 595 L1187.8 595.1 L1189.1 594.9 L1190.3 595.1 L1191.5 595.2 L1192.7 595 L1193.9 594.8 L1195.2 595.1 L1196.4 594.9 L1197.6 594.8 L1198.8 595 L1200.1 595.2 L1201.3 594.8 L1202.5 594.8 L1203.7 594.9 L1205 595.1 L1206.2 595 L1207.4 594.8 L1208.6 595 L1209.9 594.7 L1211.1 595.2 L1212.3 594.8 L1213.5 594.9 L1214.7 595 L1216 595.2 L1217.2 594.7 L1218.4 594.8 L1219.6 594.8 L1220.9 595.1 L1222.1 594.9 L1223.3 595 L1224.5 594.8 L1225.8 594.7 L1227 594.7 L1228.2 595 L1229.4 594.6 L1230.7 594.6 L1231.9 594.7 L1233.1 594.9 L1234.3 594.6 L1235.5 594.5 L1236.8 594.7 L1238 594.9 L1239.2 594.5 L1240.4 594.6 L1241.7 594.5 L1242.9 594.5 L1244.1 594.8 L1245.3 594.9 L1246.6 594.5 L1247.8 594.4 L1249 594.5 L1250.2 594.3 L1251.5 594.6 L1252.7 594.8 L1253.9 594.5 L1255.1 594.8 L1256.3 594.5 L1257.6 594.3 L1258.8 594.4 L1260 594.4 L1261.2 594.6 L1262.5 594.2 L1263.7 594.5 L1264.9 594.7 L1266.1 594.6 L1267.4 594.7 L1268.6 594.5 L1269.8 594.3 L1271 594.5 L1272.3 594.4 L1273.5 594.2 L1274.7 594.5 L1275.9 594.2 L1277.1 594.3 L1278.4 594.5 L1279.6 594.5 L1280.8 594.5 L1282 594 L1283.3 594.4 L1284.5 594.1 L1285.7 594.4 L1286.9 594 L1288.2 594.3 L1289.4 594.4 L1290.6 594.3 L1291.8 594.1 L1293.1 594.1 L1294.3 594.2 L1295.5 594.3 L1296.7 594 L1297.9 594.2 L1299.2 594.1 L1300.4 594 L1301.6 594 L1302.8 594 L1304.1 594 L1305.3 594.3 L1306.5 594.1 L1307.7 593.9 L1309 594 L1310.2 594.2 L1311.4 594 L1312.6 594.2 L1313.9 594.2 L1315.1 594 L1316.3 594.1 L1317.5 594 L1318.7 594.1 L1320 593.7 L1321.2 593.7 L1322.4 593.7 L1323.6 593.9 L1324.9 593.9 L1326.1 594 L1327.3 593.8 L1328.5 594.1 L1329.8 593.8 L1331 593.9 L1332.2 593.6 L1333.4 594 L1334.7 593.7 L1335.9 593.7 L1337.1 593.8 L1338.3 593.6 L1339.5 593.6 L1340.8 593.7 L1342 593.6 L1343.2 593.9 L1344.4 593.7 L1345.7 593.9 L1346.9 593.8 L1348.1 593.5 L1349.3 593.9 L1350.6 593.7 L1351.8 593.6 L1353 593.5 L1354.2 593.5 L1355.5 593.9 L1356.7 593.5 L1357.9 593.5 L1359.1 593.4 L1360.3 593.5 L1361.6 593.6 L1362.8 593.5 L1364 593.7 L1365.2 593.3 L1366.5 593.4 L1367.7 593.5 L1368.9 593.6 L1370.1 593.4 L1371.4 593.8 L1372.6 593.5 L1373.8 593.7 L1375 593.7 L1376.3 593.3 L1377.5 593.7 L1378.7 593.7 L1379.9 593.7 L1381.1 593.5 L1382.4 593.4 L1383.6 593.3 L1384.8 593.2 L1386 593.4 L1387.3 593.4 L1388.5 593.2 L1389.7 593.4 L1390.9 593.5 L1392.2 593.6 L1393.4 593.6 L1394.6 593.2 L1395.8 593.3 L1397.1 593.3 L1398.3 593.3 L1399.5 593.3 L1400.7 593.2 L1401.9 593.5 L1403.2 593.3 L1404.4 593.4 L1405.6 593.1 L1406.8 593.2 L1408.1 593.4 L1409.3 593.1 L1410.5 593.3 L1411.7 593.3 L1413 593.3 L1414.2 593.1 L1415.4 593.4 L1416.6 593.1 L1417.9 593 L1419.1 593 L1420.3 593 L1421.5 593.3 L1422.7 593.1 L1424 593.3 L1425.2 592.9 L1426.4 593.2 L1427.6 592.9 L1428.9 593.1 L1430.1 593.1 L1431.3 593.1 L1432.5 593 L1433.8 593 L1435 593.1 L1436.2 592.7 L1437.4 592.7 L1438.7 592.7 L1439.9 592.8 L1441.1 592.9 L1442.3 592.9 L1443.5 592.9 L1444.8 592.8 L1446 592.8 L1447.2 592.4 L1448.4 592.5 L1449.7 592.7 L1450.9 592.5 L1452.1 592.7 L1453.3 592.5 L1454.6 592.7 L1455.8 592.6 L1457 592.4 L1458.2 592.5 L1459.5 592.6 L1460.7 592.5 L1461.9 592.7 L1463.1 592.3 L1464.3 592.3 L1465.6 592.6 L1466.8 592.2 L1468 592.4 L1469.2 592.5 L1470.5 592.4 L1471.7 592.2 L1472.9 592.2 L1474.1 592.5 L1475.4 592.5 L1476.6 592.3 L1477.8 592.3 L1479 592.3 L1480.3 592 L1481.5 592 L1482.7 591.9 L1483.9 592.2 L1485.1 592 L1486.4 592.3 L1487.6 592.1 L1488.8 592.1 L1490 591.9 L1491.3 592.1 L1492.5 592 L1493.7 592.1 L1494.9 591.7 L1496.2 592.2 L1497.4 591.8 L1498.6 591.8 L1499.8 591.7 L1501.1 592.1 L1502.3 592 L1503.5 591.9" fill="none" stroke="#e0b400" stroke-width="1"/>
<path d="M36.5 403.5 L37.7 403.5 L38.9 403.4 L40.2 403.4 L41.4 403.4 L42.6 403.5 L43.8 403.5 L45.1 403.4 L46.3 403.4 L47.5 403.4 L48.7 403.4 L50 403.4 L51.2 403.4 L52.4 403.4 L53.6 403.3 L54.9 403.4 L56.1 403.4 L57.3 403.4 L58.5 403.3 L59.7 403.3 L61 403.4 L62.2 403.3 L63.4 403.3 L64.6 403.3 L65.9 403.3 L67.1 403.3 L68.3 403.2 L69.5 403.3 L70.8 403.2 L72 403.2 L73.2 403.3 L74.4 403.2 L75.7 403.3 L76.9 403.2 L78.1 403.2 L79.3 403.2 L80.5 403.3 L81.8 403.2 L83 403.2 L84.2 403.2 L85.4 403.1 L86.7 403.1 L87.9 403.1 L89.1 403.1 L90.3 403.1 L91.6 403.1 L92.8 403.1 L94 403.2 L95.2 403 L96.5 403 L97.7 403 L98.9 403 L100.1 403.1 L101.3 403.1 L102.6 403 L103.8 403.1 L105 403.1 L106.2 403.1 L107.5 403 L108.7 402.9 L109.9 403 L111.1 403 L112.4 403 L113.6 402.9 L114.8 403 L116 402.9 L117.3 402.9 L118.5 403 L119.7 402.9 L120.9 403 L122.1 402.9 L123.4 402.8 L124.6 403 L125.8 402.9 L127 402.9 L128.3 402.8 L129.5 402.9 L130.7 402.9 L131.9 402.8 L133.2 402.8 L134.4 402.8 L135.6 402.8 L136.8 402.8 L138.1 402.8 L139.3 402.8 L140.5 402.8 L141.7 402.8 L142.9 402.8 L144.2 402.7 L145.4 402.7 L146.6 402.8 L147.8 402.7 L149.1 402.7 L150.3 402.7 L151.5 402.7 L152.7 402.7 L154 402.7 L155.2 402.7 L156.4 402.6 L157.6 402.7 L158.9 402.7 L160.1 402.7 L161.3 402.6 L162.5 402.7 L163.7 402.6 L165 402.6 L166.2 402.6 L167.4 402.6 L168.6 402.5 L169.9 402.7 L171.1 402.5 L172.3 402.5 L173.5 402.6 L174.8 402.6 L176 402.5 L177.2 402.5 L178.4 402.5 L179.7 402.6 L180.9 402.5 L182.1 402.6 L183.3 402.5 L184.5 402.4 L185.8 402.4 L187 402.4 L188.2 402.4 L189.4 402.4 L190.7 402.4 L191.9 402.4 L193.1 402.4 L194.3 402.4 L195.6 402.4 L196.8 402.4 L198 402.3 L199.2 402.4 L200.5 402.3 L201.7 402.4 L202.9 402.3 L204.1 402.3 L205.3 402.4 L206.6 402.4 L207.8 402.2 L209 402.3 L210.2 402.2 L211.5 402.3 L212.7 402.3 L213.9 402.3 L215.1 402.3 L216.4 402.2 L217.6 402.3 L218.8 402.3 L220 402.3 L221.3 402.2 L222.5 402.3 L223.7 402.3 L224.9 402.2 L226.1 402.2 L227.4 402.2 L228.6 402.2 L229.8 402.2 L231 402.2 L232.3 402.2 L233.5 402.1 L234.7 402.2 L235.9 402.1 L237.2 402.2 L238.4 402 L239.6 402.1 L240.8 402 L242.1 402.1 L243.3 402 L244.5 402.1 L245.7 402 L246.9 402 L248.2 402.1 L249.4 402 L250.6 402 L251.8 402.1 L253.1 402 L254.3 402 L255.5 401.9 L256.7 402 L258 402 L259.2 401.9 L260.4 401.9 L261.6 402 L262.9 401.9 L264.1 401.9 L265.3 401.9 L266.5 401.9 L267.7 401.9 L269 401.9 L270.2 401.9 L271.4 402 L272.6 401.8 L273.9 401.9 L275.1 401.8 L276.3 401.8 L277.5 401.9 L278.8 401.9 L280 401.8 L281.2 401.8 L282.4 401.8 L283.7 401.8 L284.9 401.7 L286.1 401.7 L287.3 401.8 L288.5 401.8 L289.8 401.7 L291 401.8 L292.2 401.8 L293.4 401.7 L294.7 401.7 L295.9 401.8 L297.1 401.7 L298.3 401.7 L299.6 401.8 L300.8 401.8 L302 401.6 L303.2 401.7 L304.5 401.7 L305.7 401.6 L306.9 401.7 L308.1 401.6 L309.3 401.7 L310.6 401.6 L311.8 401.6 L313 401.6 L314.2 401.6 L315.5 401.5 L316.7 401.6 L317.9 401.6 L319.1 401.5 L320.4 401.5 L321.6 401.5 L322.8 401.6 L324 401.5 L325.3 401.6 L326.5 401.5 L327.7 401.5 L328.9 401.5 L330.1 401.4 L331.4 401.5 L332.6 401.4 L333.8 401.5 L335 401.5 L336.3 401.5 L337.5 401.5 L338.7 401.4 L339.9 401.4 L341.2 401.3 L342.4 401.4 L343.6 401.4 L344.8 401.4 L346.1 401.3 L347.3 401.3 L348.5 401.3 L349.7 401.4 L350.9 401.4 L352.2 401.4 L353.4 401.4 L354.6 401.2 L355.8 401.3 L357.1 401.3 L358.3 401.4 L359.5 401.3 L360.7 401.2 L362 401.3 L363.2 401.2 L364.4 401.3 L365.6 401.3 L366.9 401.2 L368.1 401.3 L369.3 401.2 L370.5 401.2 L371.7 401.2 L373 401.2 L374.2 401.2 L375.4 401.1 L376.6 401.2 L377.9 401.1 L379.1 401.2 L380.3 401.2 L381.5 401.2 L382.8 401.1 L384 401.2 L385.2 401.1 L386.4 401.2 L387.7 401.1 L388.9 401 L390.1 401 L391.3 401 L392.5 401 L393.8 401.1 L395 401 L396.2 401 L397.4 401 L398.7 401 L399.9 400.9 L401.1 401 L402.3 401.1 L403.6 401 L404.8 401.1 L406 401 L407.2 401 L408.4 400.9 L409.7 400.9 L410.9 401 L412.1 401 L413.3 400.9 L414.6 401 L415.8 401 L417 400.9 L418.2 400.9 L419.5 400.9 L420.7 400.9 L421.9 400.8 L423.1 400.9 L424.4 400.9 L425.6 400.8 L426.8 400.9 L428 400.9 L429.2 400.8 L430.5 400.9 L431.7 400.8 L432.9 400.8 L434.1 400.8 L435.4 400.9 L436.6 400.8 L437.8 400.7 L439 400.8 L440.3 400.8 L441.5 400.8 L442.7 400.8 L443.9 400.7 L445.2 400.8 L446.4 400.8 L447.6 400.8 L448.8 400.8 L450 400.8 L451.3 400.7 L452.5 400.7 L453.7 400.7 L454.9 400.6 L456.2 400.8 L457.4 400.6 L458.6 400.7 L459.8 400.7 L461.1 400.7 L462.3 400.7 L463.5 400.6 L464.7 400.6 L466 400.6 L467.2 400.7 L468.4 400.7 L469.6 400.6 L470.8 400.6 L472.1 400.6 L473.3 400.6 L474.5 400.5 L475.7 400.6 L477 400.6 L478.2 400.6 L479.4 400.5 L480.6 400.6 L481.9 400.6 L483.1 400.6 L484.3 400.6 L485.5 400.6 L486.8 400.5 L488 400.5 L489.2 400.5 L490.4 400.5 L491.6 400.5 L492.9 400.5 L494.1 400.4 L495.3 400.5 L496.5 400.5 L497.8 400.5 L499 400.4 L500.2 400.5 L501.4 400.5 L502.7 400.4 L503.9 400.4 L505.1 400.4 L506.3 400.4 L507.6 400.5 L508.8 400.5 L510 400.5 L511.2 400.4 L512.4 400.5 L513.7 400.4 L514.9 400.4 L516.1 400.3 L517.3 400.3 L518.6 400.4 L519.8 400.3 L521 400.4 L522.2 400.4 L523.5 400.4 L524.7 400.4 L525.9 400.3 L527.1 400.3 L528.4 400.3 L529.6 400.3 L530.8 400.4 L532 400.3 L533.2 400.3 L534.5 400.3 L535.7 400.3 L536.9 400.3 L538.1 400.2 L539.4 400.2 L540.6 400.3 L541.8 400.2 L543 400.2 L544.3 400.3 L545.5 400.2 L546.7 400.3 L547.9 400.3 L549.2 400.2 L550.4 400.2 L551.6 400.2 L552.8 400.3 L554 400.1 L555.3 400.2 L556.5 400.2 L557.7 400.2 L558.9 400.2 L560.2 400.1 L561.4 400.2 L562.6 400.2 L563.8 400.1 L565.1 400.1 L566.3 400.2 L567.5 400.1 L568.7 400.1 L570 400.2 L571.2 400.2 L572.4 400.2 L573.6 400.1 L574.8 400 L576.1 400 L577.3 400.1 L578.5 400.1 L579.7 400 L581 400 L582.2 400 L583.4 400.1 L584.6 400.1 L585.9 400 L587.1 400 L588.3 400 L589.5 400 L590.8 400 L592 399.9 L593.2 400 L594.4 399.9 L595.6 400 L596.9 399.9 L598.1 400 L599.3 400 L600.5 400 L601.8 399.9 L603 400 L604.2 399.9 L605.4 399.9 L606.7 399.9 L607.9 399.9 L609.1 399.9 L610.3 399.8 L611.6 399.9 L612.8 399.9 L614 399.9 L615.2 399.9 L616.4 399.9 L617.7 399.8 L618.9 399.8 L620.1 399.8 L621.3 399.8 L622.6 399.8 L623.8 399.8 L625 399.9 L626.2 399.9 L627.5 399.9 L628.7 399.7 L629.9 399.7 L631.1 399.7 L632.4 399.7 L633.6 399.7 L634.8 399.8 L636 399.8 L637.2 399.8 L638.5 399.7 L639.7 399.7 L640.9 399.7 L642.1 399.7 L643.4 399.7 L644.6 399.8 L645.8 399.7 L647 399.7 L648.3 399.7 L649.5 399.7 L650.7 399.7 L651.9 399.7 L653.2 399.7 L654.4 399.7 L655.6 399.7 L656.8 399.6 L658 399.7 L659.3 399.6 L660.5 399.6 L661.7 399.7 L662.9 399.6 L664.2 399.7 L665.4 399.7 L666.6 399.6 L667.8 399.7 L669.1 399.6 L670.3 399.6 L671.5 399.6 L672.7 399.6 L674 399.5 L675.2 399.6 L676.4 399.5 L677.6 399.5 L678.8 399.5 L680.1 399.5 L681.3 399.5 L682.5 399.6 L683.7 399.5 L685 399.5 L686.2 399.5 L687.4 399.5 L688.6 399.4 L689.9 399.4 L691.1 399.5 L692.3 399.5 L693.5 399.4 L694.8 399.5 L696 399.4 L697.2 399.4 L698.4 399.5 L699.6 399.3 L700.9 399.3 L702.1 399.4 L703.3 399.3 L704.5 399.4 L705.8 399.4 L707 399.4 L708.2 399.4 L709.4 399.4 L710.7 399.4 L711.9 399.3 L713.1 399.4 L714.3 399.3 L715.6 399.4 L716.8 399.4 L718 399.3 L719.2 399.4 L720.4 399.4 L721.7 399.3 L722.9 399.3 L724.1 399.3 L725.3 399.3 L726.6 399.4 L727.8 399.3 L729 399.2 L730.2 399.3 L731.5 399.3 L732.7 399.3 L733.9 399.2 L735.1 399.2 L736.4 399.2 L737.6 399.2 L738.8 399.3 L740 399.2 L741.2 399.2 L742.5 399.1 L743.7 399.2 L744.9 399.1 L746.1 399.2 L747.4 399.2 L748.6 399.1 L749.8 399.1 L751 399.1 L752.3 399.1 L753.5 399.1 L754.7 399.1 L755.9 399.2 L757.2 399.1 L758.4 399.1 L759.6 399.1 L760.8 399.2 L762 399.1 L763.3 399 L764.5 399.2 L765.7 399.1 L766.9 399 L768.2 399.1 L769.4 399 L770.6 399.1 L771.8 399.1 L773.1 399.1 L774.3 399 L775.5 399.1 L776.7 399 L778 399 L779.2 398.9 L780.4 398.9 L781.6 398.9 L782.8 399 L784.1 398.9 L785.3 398.8 L786.5 398.9 L787.7 398.8 L789 398.7 L790.2 398.8 L791.4 398.6 L792.6 398.7 L793.9 398.5 L795.1 398.5 L796.3 398.5 L797.5 398.6 L798.8 398.4 L800 398.5 L801.2 398.3 L802.4 398.3 L803.6 398.4 L804.9 398.3 L806.1 398.3 L807.3 398.3 L808.5 398.3 L809.8 398.2 L811 398.1 L812.2 398.1 L813.4 398.1 L814.7 398 L815.9 398 L817.1 397.9 L818.3 398 L819.6 398 L820.8 397.9 L822 397.9 L823.2 397.7 L824.4 397.7 L825.7 397.7 L826.9 397.7 L828.1 397.6 L829.3 397.5 L830.6 397.6 L831.8 397.5 L833 397.6 L834.2 397.5 L835.5 397.5 L836.7 397.5 L837.9 397.4 L839.1 397.3 L840.4 397.4 L841.6 397.3 L842.8 397.2 L844 397.2 L845.2 397.1 L846.5 397.1 L847.7 397 L848.9 397.1 L850.1 397.1 L851.4 397 L852.6 396.9 L853.8 396.9 L855 396.9 L856.3 396.8 L857.5 396.8 L858.7 396.8 L859.9 396.7 L861.2 396.7 L862.4 396.6 L863.6 396.7 L864.8 396.6 L866 396.6 L867.3 396.5 L868.5 396.5 L869.7 396.5 L870.9 396.5 L872.2 396.4 L873.4 396.3 L874.6 396.3 L875.8 396.2 L877.1 396.3 L878.3 396.3 L879.5 396.2 L880.7 396.2 L882 396.1 L883.2 396.1 L884.4 396.1 L885.6 396.1 L886.8 396 L888.1 396 L889.3 396 L890.5 395.9 L891.7 395.8 L893 395.8 L894.2 395.9 L895.4 395.7 L896.6 395.7 L897.9 395.8 L899.1 395.7 L900.3 395.6 L901.5 395.5 L902.8 395.6 L904 395.6 L905.2 395.5 L906.4 395.5 L907.6 395.4 L908.9 395.4 L910.1 395.4 L911.3 395.3 L912.5 395.4 L913.8 395.3 L915 395.3 L916.2 395.1 L917.4 395.2 L918.7 395.1 L919.9 395.1 L921.1 395 L922.3 395 L923.6 394.9 L924.8 394.9 L926 394.9 L927.2 394.9 L928.4 394.8 L929.7 394.8 L930.9 394.8 L932.1 394.8 L933.3 394.6 L934.6 394.7 L935.8 394.5 L937 394.6 L938.2 394.5 L939.5 394.5 L940.7 394.5 L941.9 394.5 L943.1 394.4 L944.4 394.5 L945.6 394.4 L946.8 394.3 L948 394.4 L949.2 394.3 L950.5 394.3 L951.7 394.1 L952.9 394.1 L954.1 394.1 L955.4 394.1 L956.6 394 L957.8 394 L959 393.9 L960.3 393.9 L961.5 393.8 L962.7 393.8 L963.9 393.9 L965.2 393.8 L966.4 393.7 L967.6 393.7 L968.8 393.7 L970 393.7 L971.3 393.6 L972.5 393.5 L973.7 393.5 L974.9 393.6 L976.2 393.5 L977.4 393.5 L978.6 393.4 L979.8 393.4 L981.1 393.3 L982.3 393.4 L983.5 393.4 L984.7 393.3 L986 393.1 L987.2 393.2 L988.4 393.2 L989.6 393.1 L990.8 393 L992.1 393.1 L993.3 393 L994.5 393 L995.7 393 L997 392.9 L998.2 392.9 L999.4 392.8 L1000.6 392.8 L1001.9 392.8 L1003.1 392.7 L1004.3 392.8 L1005.5 392.7 L1006.8 392.7 L1008 392.7 L1009.2 392.6 L1010.4 392.6 L1011.6 392.5 L1012.9 392.5 L1014.1 392.4 L1015.3 392.4 L1016.5 392.4 L1017.8 392.3 L1019 392.2 L1020.2 392.3 L1021.4 392.2 L1022.7 392.3 L1023.9 392.2 L1025.1 392.1 L1026.3 392.1 L1027.6 392.1 L1028.8 392.1 L1030 392 L1031.2 391.9 L1032.4 391.9 L1033.7 391.9 L1034.9 391.8 L1036.1 391.9 L1037.3 391.9 L1038.6 391.7 L1039.8 391.7 L1041 391.7 L1042.2 391.7 L1043.5 391.5 L1044.7 391.6 L1045.9 391.6 L1047.1 391.4 L1048.4 391.5 L1049.6 391.5 L1050.8 391.4 L1052 391.3 L1053.2 391.4 L1054.5 391.4 L1055.7 391.3 L1056.9 391.2 L1058.1 391.1 L1059.4 391.1 L1060.6 391.1 L1061.8 391.1 L1063 391 L1064.3 391 L1065.5 391 L1066.7 391 L1067.9 391 L1069.2 390.9 L1070.4 390.9 L1071.6 391 L1072.8 390.9 L1074 390.9 L1075.3 390.9 L1076.5 390.9 L1077.7 390.9 L1078.9 390.9 L1080.2 390.9 L1081.4 390.8 L1082.6 390.8 L1083.8 390.8 L1085.1 390.8 L1086.3 390.8 L1087.5 390.8 L1088.7 390.7 L1090 390.6 L1091.2 390.7 L1092.4 390.7 L1093.6 390.8 L1094.8 390.7 L1096.1 390.7 L1097.3 390.6 L1098.5 390.6 L1099.7 390.6 L1101 390.6 L1102.2 390.6 L1103.4 390.6 L1104.6 390.6 L1105.9 390.6 L1107.1 390.5 L1108.3 390.5 L1109.5 390.4 L1110.8 390.4 L1112 390.4 L1113.2 390.5 L1114.4 390.4 L1115.6 390.4 L1116.9 390.4 L1118.1 390.5 L1119.3 390.4 L1120.5 390.3 L1121.8 390.4 L1123 390.3 L1124.2 390.3 L1125.4 390.4 L1126.7 390.3 L1127.9 390.2 L1129.1 390.2 L1130.3 390.3 L1131.6 390.2 L1132.8 390.2 L1134 390.3 L1135.2 390.2 L1136.4 390.2 L1137.7 390.2 L1138.9 390.1 L1140.1 390.2 L1141.3 390.2 L1142.6 390.2 L1143.8 390.1 L1145 390.1 L1146.2 390.1 L1147.5 390 L1148.7 390.1 L1149.9 390 L1151.1 390 L1152.3 390 L1153.6 390 L1154.8 389.9 L1156 390 L1157.2 390 L1158.5 389.9 L1159.7 389.9 L1160.9 390 L1162.1 390 L1163.4 389.8 L1164.6 389.9 L1165.8 389.8 L1167 389.9 L1168.3 389.9 L1169.5 389.9 L1170.7 389.7 L1171.9 389.8 L1173.1 389.7 L1174.4 389.8 L1175.6 389.7 L1176.8 389.7 L1178 389.7 L1179.3 389.7 L1180.5 389.7 L1181.7 389.7 L1182.9 389.6 L1184.2 389.7 L1185.4 389.6 L1186.6 389.6 L1187.8 389.6 L1189.1 389.6 L1190.3 389.5 L1191.5 389.6 L1192.7 389.6 L1193.9 389.5 L1195.2 389.5 L1196.4 389.5 L1197.6 389.4 L1198.8 389.5 L1200.1 389.4 L1201.3 389.5 L1202.5 389.4 L1203.7 389.5 L1205 389.4 L1206.2 389.4 L1207.4 389.4 L1208.6 389.3 L1209.9 389.4 L1211.1 389.4 L1212.3 389.3 L1213.5 389.3 L1214.7 389.3 L1216 389.2 L1217.2 389.3 L1218.4 389.3 L1219.6 389.2 L1220.9 389.2 L1222.1 389.2 L1223.3 389.2 L1224.5 389.2 L1225.8 389.2 L1227 389.1 L1228.2 389.1 L1229.4 389.2 L1230.7 389.1 L1231.9 389.2 L1233.1 389.2 L1234.3 389.1 L1235.5 389.1 L1236.8 389 L1238 389 L1239.2 389 L1240.4 389 L1241.7 389 L1242.9 389 L1244.1 388.9 L1245.3 389 L1246.6 388.9 L1247.8 388.8 L1249 388.9 L1250.2 388.9 L1251.5 388.9 L1252.7 388.9 L1253.9 388.8 L1255.1 388.8 L1256.3 388.8 L1257.6 388.8 L1258.8 388.8 L1260 388.7 L1261.2 388.8 L1262.5 388.8 L1263.7 388.7 L1264.9 388.6 L1266.1 388.7 L1267.4 388.7 L1268.6 388.7 L1269.8 388.7 L1271 388.6 L1272.3 388.6 L1273.5 388.7 L1274.7 388.6 L1275.9 388.5 L1277.1 388.6 L1278.4 388.5 L1279.6 388.5 L1280.8 388.6 L1282 388.5 L1283.3 388.5 L1284.5 388.4 L1285.7 388.5 L1286.9 388.5 L1288.2 388.5 L1289.4 388.5 L1290.6 388.4 L1291.8 388.4 L1293.1 388.3 L1294.3 388.3 L1295.5 388.3 L1296.7 388.4 L1297.9 388.4 L1299.2 388.4 L1300.4 388.2 L1301.6 388.3 L1302.8 388.3 L1304.1 388.3 L1305.3 388.2 L1306.5 388.2 L1307.7 388.2 L1309 388.2 L1310.2 388.2 L1311.4 388.2 L1312.6 388.2 L1313.9 388.2 L1315.1 388.2 L1316.3 388.1 L1317.5 388.1 L1318.7 388 L1320 388.1 L1321.2 388.1 L1322.4 388.1 L1323.6 388 L1324.9 388.1 L1326.1 388.1 L1327.3 388 L1328.5 388 L1329.8 387.9 L1331 388 L1332.2 387.9 L1333.4 388 L1334.7 387.9 L1335.9 387.9 L1337.1 387.9 L1338.3 388 L1339.5 387.8 L1340.8 387.9 L1342 387.9 L1343.2 387.9 L1344.4 387.9 L1345.7 387.7 L1346.9 387.7 L1348.1 387.8 L1349.3 387.8 L1350.6 387.8 L1351.8 387.7 L1353 387.8 L1354.2 387.6 L1355.5 387.7 L1356.7 387.7 L1357.9 387.6 L1359.1 387.7 L1360.3 387.6 L1361.6 387.6 L1362.8 387.7 L1364 387.7 L1365.2 387.6 L1366.5 387.6 L1367.7 387.6 L1368.9 387.5 L1370.1 387.6 L1371.4 387.5 L1372.6 387.5 L1373.8 387.4 L1375 387.5 L1376.3 387.4 L1377.5 387.5 L1378.7 387.4 L1379.9 387.4 L1381.1 387.3 L1382.4 387.3 L1383.6 387.4 L1384.8 387.4 L1386 387.4 L1387.3 387.3 L1388.5 387.3 L1389.7 387.3 L1390.9 387.2 L1392.2 387.2 L1393.4 387.3 L1394.6 387.3 L1395.8 387.2 L1397.1 387.2 L1398.3 387.2 L1399.5 387.1 L1400.7 387.2 L1401.9 387.1 L1403.2 387.2 L1404.4 387.1 L1405.6 387.1 L1406.8 387.1 L1408.1 387 L1409.3 387.1 L1410.5 387 L1411.7 387.1 L1413 387.1 L1414.2 387.1 L1415.4 386.9 L1416.6 387 L1417.9 387 L1419.1 386.9 L1420.3 386.9 L1421.5 387 L1422.7 386.9 L1424 387 L1425.2 386.9 L1426.4 386.8 L1427.6 386.8 L1428.9 386.9 L1430.1 386.9 L1431.3 386.9 L1432.5 386.8 L1433.8 386.9 L1435 386.8 L1436.2 386.8 L1437.4 386.8 L1438.7 386.7 L1439.9 386.8 L1441.1 386.7 L1442.3 386.7 L1443.5 386.7 L1444.8 386.7 L1446 386.7 L1447.2 386.6 L1448.4 386.7 L1449.7 386.6 L1450.9 386.6 L1452.1 386.6 L1453.3 386.6 L1454.6 386.6 L1455.8 386.5 L1457 386.5 L1458.2 386.5 L1459.5 386.6 L1460.7 386.6 L1461.9 386.4 L1463.1 386.5 L1464.3 386.5 L1465.6 386.4 L1466.8 386.4 L1468 386.4 L1469.2 386.4 L1470.5 386.4 L1471.7 386.4 L1472.9 386.4 L1474.1 386.3 L1475.4 386.3 L1476.6 386.3 L1477.8 386.4 L1479 386.2 L1480.3 386.3 L1481.5 386.3 L1482.7 386.2 L1483.9 386.2 L1485.1 386.2 L1486.4 386.2 L1487.6 386.2 L1488.8 386.2 L1490 386.2 L1491.3 386.1 L1492.5 386.2 L1493.7 386.1 L1494.9 386.1 L1496.2 386.2 L1497.4 386.1 L1498.6 386.1 L1499.8 386 L1501.1 386 L1502.3 386 L1503.5 386.1" fill="none" stroke="#6d9ae8" stroke-width="1"/>
<path d="M36.5 446.4 L37.5 390.3 L38.5 349.5 L39.5 373.4 L40.5 453 L41.5 429.5 L42.5 478 L43.5 477.9 L44.5 470.3 L45.5 471.1 L46.5 391.6 L47.5 340.1 L48.5 309.1 L49.5 375.9 L50.5 364.3 L51.5 446.7 L52.5 444.2 L53.5 461.5 L54.5 457.6 L55.5 455 L56.5 454.7 L57.5 454.4 L58.5 458.5 L59.5 409.7 L60.5 228.3 L61.5 342 L62.5 225.7 L63.5 293 L64.5 344.8 L65.5 360.2 L66.5 324.4 L67.5 411.7 L68.5 403.2 L69.5 463.8 L70.5 463.3 L71.5 457.4 L72.5 467.9 L73.5 465.9 L74.5 373.5 L75.5 248.9 L76.5 234.9 L77.5 266.2 L78.5 316 L79.5 349 L80.5 381 L81.5 407.6 L82.5 409.8 L83.5 415.7 L84.5 462.5 L85.5 464.1 L86.5 467.8 L87.5 470.5 L88.5 470.4 L89.5 471.4 L90.5 366.4 L91.5 409.7 L92.5 372.6 L93.5 272.6 L94.5 339 L95.5 315.6 L96.5 341 L97.5 447.8 L98.5 414.4 L99.5 442.8 L100.5 462.3 L101.5 455.5 L102.5 468.8 L103.5 455 L104.5 473.5 L105.5 464.6 L106.5 440.8 L107.5 377.8 L108.5 309.3 L109.5 343.5 L110.5 396.3 L111.5 335.9 L112.5 386.1 L113.5 389.8 L114.5 396.7 L115.5 363.6 L116.5 429.1 L117.5 447 L118.5 454.9 L119.5 461.7 L120.5 465.3 L121.5 457.6 L122.5 468.8 L123.5 406.7 L124.5 286 L125.5 258.9 L126.5 244.8 L127.5 331.2 L128.5 310.1 L129.5 385.7 L130.5 282.7 L131.5 378 L132.5 305.1 L133.5 462 L134.5 467.5 L135.5 482.6 L136.5 488.1 L137.5 480.6 L138.5 478 L139.5 401.5 L140.5 401.7 L141.5 292 L142.5 286.3 L143.5 276.1 L144.5 345.4 L145.5 342.5 L146.5 454 L147.5 453.2 L148.5 479.6 L149.5 462.9 L150.5 471.6 L151.5 462.6 L152.5 472.3 L153.5 465.3 L154.5 372.4 L155.5 347.7 L156.5 236.3 L157.5 228.6 L158.5 314.8 L159.5 291.6 L160.5 278.5 L161.5 409.9 L162.5 406.4 L163.5 462.9 L164.5 458.4 L165.5 466.6 L166.5 473.8 L167.5 461.8 L168.5 401.4 L169.5 415.8 L170.5 319.1 L171.5 356.8 L172.5 358.9 L173.5 365.5 L174.5 398 L175.5 383.5 L176.5 394.9 L177.5 451.1 L178.5 440.6 L179.5 459.1 L180.5 463.1 L181.5 464.1 L182.5 457.7 L183.5 353.3 L184.5 328.7 L185.5 357.8 L186.5 262.4 L187.5 324.1 L188.5 346.9 L189.5 324.4 L190.5 378.7 L191.5 376.3 L192.5 430.5 L193.5 428.8 L194.5 474.5 L195.5 479.5 L196.5 469 L197.5 470.5 L198.5 485.2 L199.5 412.9 L200.5 324.9 L201.5 349.8 L202.5 333.6 L203.5 368 L204.5 406.4 L205.5 358.2 L206.5 379.5 L207.5 373.7 L208.5 373.5 L209.5 449.6 L210.5 428.7 L211.5 466.4 L212.5 459.6 L213.5 465.1 L214.5 466.7 L215.5 430.8 L216.5 428.2 L217.5 335.5 L218.5 315.4 L219.5 355 L220.5 339.5 L221.5 399.5 L222.5 442.3 L223.5 437.3 L224.5 421.6 L225.5 472.1 L226.5 463.5 L227.5 466.1 L228.5 456.5 L229.5 394 L230.5 391.4 L231.5 264.6 L232.5 288.8 L233.5 316.3 L234.5 376.4 L235.5 372.1 L236.5 364.9 L237.5 433.4 L238.5 425.9 L239.5 436.6 L240.5 475.3 L241.5 476.9 L242.5 476.7 L243.5 462 L244.5 464.6 L245.5 481.7 L246.5 402 L247.5 359.4 L248.5 383.8 L249.5 268.9 L250.5 365.2 L251.5 396.1 L252.5 463 L253.5 455.3 L254.5 464.1 L255.5 472.5 L256.5 479.3 L257.5 481.7 L258.5 482.7 L259.5 472.1 L260.5 473 L261.5 452.7 L262.5 453.9 L263.5 314.9 L264.5 334.8 L265.5 344 L266.5 390 L267.5 439 L268.5 438.6 L269.5 440 L270.5 472.9 L271.5 470.5 L272.5 480.9 L273.5 477.6 L274.5 390.9 L275.5 322.6 L276.5 272.8 L277.5 322.8 L278.5 338 L279.5 319.7 L280.5 330 L281.5 332.4 L282.5 372.6 L283.5 392.5 L284.5 420.7 L285.5 448.8 L286.5 436.4 L287.5 462.6 L288.5 473.8 L289.5 470.6 L290.5 465.8 L291.5 396.3 L292.5 351.4 L293.5 284.5 L294.5 267.1 L295.5 238.8 L296.5 280.3 L297.5 356.9 L298.5 426.7 L299.5 417.5 L300.5 459.8 L301.5 476.7 L302.5 471.4 L303.5 470.2 L304.5 462.5 L305.5 396.6 L306.5 292.2 L307.5 308.4 L308.5 292.1 L309.5 345.1 L310.5 338.3 L311.5 462.4 L312.5 435.4 L313.5 419.3 L314.5 467.5 L315.5 464.4 L316.5 475.2 L317.5 471 L318.5 461 L319.5 470.8 L320.5 441.8 L321.5 320.3 L322.5 345.8 L323.5 378.7 L324.5 360.9 L325.5 340.7 L326.5 404.3 L327.5 389.8 L328.5 430.9 L329.5 447.4 L330.5 443.3 L331.5 461.9 L332.5 463.6 L333.5 469.3 L334.5 472.7 L335.5 381.9 L336.5 396.5 L337.5 299.4 L338.5 380.7 L339.5 284 L340.5 331.8 L341.5 331.7 L342.5 457.6 L343.5 456.5 L344.5 461.3 L345.5 474.9 L346.5 462.8 L347.5 469 L348.5 477.8 L349.5 468.7 L350.5 430.6 L351.5 379.4 L352.5 316.4 L353.5 330.3 L354.5 329.9 L355.5 361.9 L356.5 362.9 L357.5 347.5 L358.5 352.6 L359.5 376.6 L360.5 454.3 L361.5 439.9 L362.5 455.1 L363.5 461.5 L364.5 467.5 L365.5 457.9 L366.5 468.4 L367.5 414.3 L368.5 399.4 L369.5 351.7 L370.5 331.1 L371.5 364.8 L372.5 387.2 L373.5 452.6 L374.5 470.1 L375.5 487 L376.5 477 L377.5 477.1 L378.5 489.5 L379.5 469.9 L380.5 391.5 L381.5 432.9 L382.5 314 L383.5 267.9 L384.5 287.4 L385.5 349.4 L386.5 303.9 L387.5 320.2 L388.5 454.6 L389.5 424 L390.5 417.2 L391.5 460.8 L392.5 455.5 L393.5 454.2 L394.5 460.9 L395.5 402.1 L396.5 220.3 L397.5 297 L398.5 357.6 L399.5 298.7 L400.5 320.5 L401.5 290.1 L402.5 452.4 L403.5 436.9 L404.5 468.6 L405.5 464.8 L406.5 457.9 L407.5 459.7 L408.5 472.2 L409.5 463.6 L410.5 370 L411.5 329.9 L412.5 225.3 L413.5 296.2 L414.5 311.5 L415.5 301.5 L416.5 342.2 L417.5 372.5 L418.5 416.8 L419.5 418.2 L420.5 399 L421.5 468.4 L422.5 472.3 L423.5 477 L424.5 470.4 L425.5 467.2 L426.5 383.7 L427.5 310.8 L428.5 306.4 L429.5 245.8 L430.5 278.3 L431.5 325 L432.5 382.8 L433.5 445.2 L434.5 416.7 L435.5 400.8 L436.5 453.3 L437.5 455.8 L438.5 464.4 L439.5 454 L440.5 455.7 L441.5 464.7 L442.5 377.1 L443.5 455.1 L444.5 309.1 L445.5 321 L446.5 301.3 L447.5 405.4 L448.5 360.3 L449.5 370.4 L450.5 452.5 L451.5 466.7 L452.5 437.2 L453.5 479.7 L454.5 469.8 L455.5 472.3 L456.5 483.7 L457.5 416.4 L458.5 390.4 L459.5 352.8 L460.5 315.2 L461.5 329.2 L462.5 387.1 L463.5 413.9 L464.5 370.2 L465.5 443.3 L466.5 465.5 L467.5 484 L468.5 479.6 L469.5 480 L470.5 474.4 L471.5 474.9 L472.5 375.4 L473.5 241.1 L474.5 297.1 L475.5 270 L476.5 296.7 L477.5 341.9 L478.5 357.8 L479.5 320.6 L480.5 443 L481.5 456.7 L482.5 488.6 L483.5 484.1 L484.5 490.9 L485.5 484.9 L486.5 483.7 L487.5 472.8 L488.5 405.5 L489.5 435.6 L490.5 324.5 L491.5 370.6 L492.5 259.5 L493.5 307.9 L494.5 332.8 L495.5 415.8 L496.5 427.9 L497.5 458.7 L498.5 467.9 L499.5 473.5 L500.5 454.3 L501.5 473.3 L502.5 474 L503.5 442.1 L504.5 326.1 L505.5 317.2 L506.5 309.6 L507.5 366.1 L508.5 384.5 L509.5 374.9 L510.5 353.7 L511.5 372.1 L512.5 436.7 L513.5 434 L514.5 472.4 L515.5 462.3 L516.5 473.8 L517.5 458 L518.5 468.7 L519.5 401.3 L520.5 392 L521.5 362.4 L522.5 346.3 L523.5 313 L524.5 343.7 L525.5 384.2 L526.5 388.2 L527.5 451.3 L528.5 453.2 L529.5 442.1 L530.5 466.8 L531.5 476.7 L532.5 462.9 L533.5 464.9 L534.5 470.9 L535.5 404.5 L536.5 275.9 L537.5 244 L538.5 322 L539.5 293.4 L540.5 365.9 L541.5 359.5 L542.5 435.8 L543.5 446.3 L544.5 456.4 L545.5 456 L546.5 463.4 L547.5 462.4 L548.5 406.4 L549.5 399.8 L550.5 374.8 L551.5 326.4 L552.5 443 L553.5 442.1 L554.5 442.3 L555.5 468.9 L556.5 476.6 L557.5 475.3 L558.5 462.2 L559.5 472.3 L560.5 479.1 L561.5 445.3 L562.5 312.9 L563.5 362.6 L564.5 376.2 L565.5 386.7 L566.5 395.3 L567.5 398.4 L568.5 376.1 L569.5 460.4 L570.5 458.3 L571.5 464.1 L572.5 457.5 L573.5 469.2 L574.5 471.1 L575.5 469.3 L576.5 477.4 L577.5 418.3 L578.5 255.3 L579.5 294.2 L580.5 313.5 L581.5 362.3 L582.5 381.6 L583.5 414.3 L584.5 410.3 L585.5 479.7 L586.5 472.8 L587.5 477.7 L588.5 473 L589.5 469.2 L590.5 466.4 L591.5 371.1 L592.5 421.4 L593.5 355.4 L594.5 331.1 L595.5 283.3 L596.5 389.9 L597.5 336.9 L598.5 331.6 L599.5 401.6 L600.5 458.6 L601.5 429.7 L602.5 473.4 L603.5 486.5 L604.5 469.9 L605.5 482.8 L606.5 473.8 L607.5 406 L608.5 385.4 L609.5 283 L610.5 350.8 L611.5 268.8 L612.5 318.7 L613.5 364.7 L614.5 349.4 L615.5 324.9 L616.5 209.2 L617.5 458.4 L618.5 413.7 L619.5 475.1 L620.5 465.4 L621.5 475.4 L622.5 474.7 L623.5 458.5 L624.5 388.6 L625.5 306.9 L626.5 251.8 L627.5 279.3 L628.5 295.3 L629.5 311.8 L630.5 325.6 L631.5 332.3 L632.5 334.3 L633.5 463.8 L634.5 452 L635.5 498.9 L636.5 491.7 L637.5 496.1 L638.5 491.7 L639.5 501 L640.5 442.9 L641.5 362.4 L642.5 377.1 L643.5 262.5 L644.5 304.3 L645.5 313.7 L646.5 430.5 L647.5 438.1 L648.5 450.6 L649.5 474.2 L650.5 471.7 L651.5 463.9 L652.5 478 L653.5 471.6 L654.5 466.9 L655.5 366.1 L656.5 356.3 L657.5 301.5 L658.5 220.6 L659.5 280.5 L660.5 293.7 L661.5 366.3 L662.5 434.1 L663.5 407.4 L664.5 477 L665.5 461.5 L666.5 460.6 L667.5 473.4 L668.5 404.1 L669.5 285.2 L670.5 397.5 L671.5 349.9 L672.5 338.1 L673.5 314.2 L674.5 319.6 L675.5 371.7 L676.5 345.2 L677.5 429 L678.5 436.6 L679.5 487.2 L680.5 491.4 L681.5 478.7 L682.5 479.7 L683.5 481.9 L684.5 339.2 L685.5 379.4 L686.5 286.4 L687.5 301.3 L688.5 231.5 L689.5 342.8 L690.5 310.7 L691.5 293 L692.5 330.5 L693.5 413.4 L694.5 408.9 L695.5 454.3 L696.5 459.7 L697.5 465.4 L698.5 458.2 L699.5 468.8 L700.5 474.2 L701.5 423.1 L702.5 444.5 L703.5 327.7 L704.5 366.7 L705.5 388.4 L706.5 349.8 L707.5 401.1 L708.5 408.4 L709.5 444.5 L710.5 441.8 L711.5 475 L712.5 474.4 L713.5 460.9 L714.5 469.5 L715.5 463.4 L716.5 475.3 L717.5 387.5 L718.5 377.9 L719.5 388.9 L720.5 301.5 L721.5 326.2 L722.5 353.5 L723.5 365.6 L724.5 361 L725.5 452.9 L726.5 461.6 L727.5 461.7 L728.5 478.3 L729.5 463.3 L730.5 460.2 L731.5 466.3 L732.5 463.9 L733.5 399.3 L734.5 412.8 L735.5 331.6 L736.5 387.5 L737.5 382 L738.5 343.2 L739.5 366.3 L740.5 410.9 L741.5 376.6 L742.5 401.2 L743.5 445.2 L744.5 456.6 L745.5 453.2 L746.5 467.4 L747.5 458.6 L748.5 455 L749.5 362.2 L750.5 376.8 L751.5 278.5 L752.5 296.1 L753.5 303 L754.5 330.3 L755.5 383.8 L756.5 312.8 L757.5 327 L758.5 395.8 L759.5 432.7 L760.5 415.4 L761.5 469.9 L762.5 476.2 L763.5 471.6 L764.5 458 L765.5 472.9 L766.5 391.5 L767.5 376.1 L768.5 350.7 L769.5 294 L770.5 307.4 L771.5 329 L772.5 344.5 L773.5 347 L774.5 394.8 L775.5 428.5 L776.5 450.3 L777.5 479.4 L778.5 473.2 L779.5 467.2 L780.5 474.4 L781.5 441.1 L782.5 299.9 L783.5 274.9 L784.5 345 L785.5 341 L786.5 354.6 L787.5 389.1 L788.5 436 L789.5 466.5 L790.5 481.4 L791.5 474.7 L792.5 468.9 L793.5 473.8 L794.5 477.7 L795.5 472.4 L796.5 419.9 L797.5 384.6 L798.5 328.9 L799.5 372.6 L800.5 377.7 L801.5 352.2 L802.5 380.4 L803.5 440.6 L804.5 436.1 L805.5 454.1 L806.5 469.7 L807.5 471.7 L808.5 472.9 L809.5 470.7 L810.5 409.8 L811.5 340 L812.5 388.1 L813.5 311.9 L814.5 339.9 L815.5 351.5 L816.5 342.8 L817.5 353.7 L818.5 383.4 L819.5 423.6 L820.5 419.7 L821.5 468.2 L822.5 453.9 L823.5 452.1 L824.5 460.4 L825.5 468.6 L826.5 379.4 L827.5 394.1 L828.5 357.3 L829.5 309.5 L830.5 325.6 L831.5 351.9 L832.5 397.7 L833.5 388.7 L834.5 394.7 L835.5 358.1 L836.5 449 L837.5 466 L838.5 468.5 L839.5 467.3 L840.5 462.3 L841.5 468.5 L842.5 480.4 L843.5 408.2 L844.5 400.3 L845.5 330.9 L846.5 363.4 L847.5 377 L848.5 439.7 L849.5 443 L850.5 450.3 L851.5 471.9 L852.5 471.2 L853.5 467.1 L854.5 465.1 L855.5 470.8 L856.5 431.9 L857.5 330.2 L858.5 313.8 L859.5 286.6 L860.5 347.7 L861.5 392.7 L862.5 336.7 L863.5 344.1 L864.5 358.6 L865.5 431.4 L866.5 439.6 L867.5 472.9 L868.5 478.3 L869.5 474.5 L870.5 461.7 L871.5 473.7 L872.5 407.8 L873.5 330.7 L874.5 323.4 L875.5 303.4 L876.5 354.4 L877.5 406 L878.5 329.7 L879.5 379.8 L880.5 387.1 L881.5 469.2 L882.5 459.5 L883.5 480.3 L884.5 481.8 L885.5 486.4 L886.5 469.2 L887.5 472.5 L888.5 398.3 L889.5 267 L890.5 330.6 L891.5 227.7 L892.5 306.1 L893.5 264.9 L894.5 291.7 L895.5 341.6 L896.5 378.8 L897.5 412.6 L898.5 428.1 L899.5 424.4 L900.5 458.4 L901.5 464 L902.5 469.6 L903.5 460.7 L904.5 395.8 L905.5 411.1 L906.5 327.2 L907.5 345.8 L908.5 177.3 L909.5 409 L910.5 438.1 L911.5 448.5 L912.5 443.8 L913.5 480.4 L914.5 479.2 L915.5 475.4 L916.5 484.2 L917.5 486.2 L918.5 420.4 L919.5 376.5 L920.5 281.7 L921.5 294.3 L922.5 299.9 L923.5 305.3 L924.5 324.6 L925.5 402 L926.5 364.6 L927.5 445.3 L928.5 444.1 L929.5 471.3 L930.5 483.1 L931.5 476.2 L932.5 485.3 L933.5 418.8 L934.5 409.3 L935.5 295.3 L936.5 375.4 L937.5 423.5 L938.5 453.1 L939.5 443.8 L940.5 459.7 L941.5 465.5 L942.5 460.2 L943.5 464.3 L944.5 463.5 L945.5 463.6 L946.5 426.6 L947.5 391.1 L948.5 307.8 L949.5 367.7 L950.5 307.2 L951.5 400.7 L952.5 381.2 L953.5 444.8 L954.5 432.6 L955.5 452.6 L956.5 473 L957.5 462.2 L958.5 470.4 L959.5 474.5 L960.5 465.7 L961.5 474.3 L962.5 413.9 L963.5 398.2 L964.5 321 L965.5 346.5 L966.5 364.5 L967.5 365.8 L968.5 414.5 L969.5 366.6 L970.5 368.1 L971.5 449.4 L972.5 460.8 L973.5 482.3 L974.5 471.5 L975.5 487.8 L976.5 478 L977.5 472.8 L978.5 390.1 L979.5 321.6 L980.5 368.9 L981.5 320.5 L982.5 340.9 L983.5 363.9 L984.5 386.3 L985.5 367.6 L986.5 428.6 L987.5 459 L988.5 462.3 L989.5 469.2 L990.5 460.8 L991.5 475.4 L992.5 457.9 L993.5 445.2 L994.5 325.4 L995.5 299.3 L996.5 401.2 L997.5 374.6 L998.5 407.4 L999.5 444.5 L1000.5 443.3 L1001.5 434.5 L1002.5 482.1 L1003.5 488.9 L1004.5 482.3 L1005.5 479.7 L1006.5 479 L1007.5 440.7 L1008.5 310.7 L1009.5 348.6 L1010.5 354.5 L1011.5 391 L1012.5 354.9 L1013.5 357.4 L1014.5 363.6 L1015.5 385.4 L1016.5 365.3 L1017.5 451.8 L1018.5 452.9 L1019.5 474.1 L1020.5 475.3 L1021.5 480.3 L1022.5 467.8 L1023.5 475.2 L1024.5 427.5 L1025.5 409 L1026.5 300.3 L1027.5 309.6 L1028.5 290 L1029.5 319 L1030.5 355.6 L1031.5 395.2 L1032.5 344.8 L1033.5 343.8 L1034.5 435.5 L1035.5 432.3 L1036.5 472.9 L1037.5 464.5 L1038.5 480.4 L1039.5 472.9 L1040.5 467.5 L1041.5 434.7 L1042.5 310.1 L1043.5 307.7 L1044.5 387.5 L1045.5 374.3 L1046.5 182.8 L1047.5 425.5 L1048.5 447.1 L1049.5 463 L1050.5 469.2 L1051.5 464 L1052.5 473.1 L1053.5 473.7 L1054.5 390.3 L1055.5 332.1 L1056.5 386.6 L1057.5 325.1 L1058.5 186.4 L1059.5 425.6 L1060.5 461 L1061.5 440.4 L1062.5 449.2 L1063.5 485.8 L1064.5 472 L1065.5 485.2 L1066.5 486.3 L1067.5 488.1 L1068.5 486.4 L1069.5 431.6 L1070.5 339 L1071.5 318.8 L1072.5 274.1 L1073.5 363.6 L1074.5 334.7 L1075.5 434 L1076.5 448.3 L1077.5 459.9 L1078.5 476.5 L1079.5 470 L1080.5 460.4 L1081.5 461.9 L1082.5 471.5 L1083.5 382.9 L1084.5 432.3 L1085.5 285 L1086.5 334.1 L1087.5 244.9 L1088.5 314.1 L1089.5 297.3 L1090.5 362.3 L1091.5 314.4 L1092.5 354.2 L1093.5 454.9 L1094.5 411.4 L1095.5 485.5 L1096.5 484.3 L1097.5 470.3 L1098.5 472 L1099.5 380.5 L1100.5 362.9 L1101.5 218.6 L1102.5 270.6 L1103.5 338.9 L1104.5 362.2 L1105.5 453 L1106.5 407 L1107.5 443 L1108.5 469.8 L1109.5 479.9 L1110.5 478.8 L1111.5 472 L1112.5 472 L1113.5 376.2 L1114.5 354.2 L1115.5 231.6 L1116.5 276.7 L1117.5 347.7 L1118.5 280.5 L1119.5 300.5 L1120.5 468.4 L1121.5 465.4 L1122.5 471.7 L1123.5 486.3 L1124.5 499.7 L1125.5 499.9 L1126.5 499.2 L1127.5 498.7 L1128.5 492.1 L1129.5 443.1 L1130.5 388.1 L1131.5 335.9 L1132.5 323.2 L1133.5 338.7 L1134.5 376 L1135.5 357.7 L1136.5 417.9 L1137.5 437.6 L1138.5 444.3 L1139.5 465.3 L1140.5 477 L1141.5 471.3 L1142.5 468.8 L1143.5 473.7 L1144.5 427.6 L1145.5 430.9 L1146.5 316.6 L1147.5 251.3 L1148.5 291.2 L1149.5 283.5 L1150.5 359.8 L1151.5 359.1 L1152.5 380.4 L1153.5 402.8 L1154.5 404.8 L1155.5 463 L1156.5 462 L1157.5 459 L1158.5 469.8 L1159.5 458 L1160.5 427.3 L1161.5 343.9 L1162.5 361.4 L1163.5 312.8 L1164.5 378.5 L1165.5 366.9 L1166.5 463.8 L1167.5 459.1 L1168.5 476.4 L1169.5 465.5 L1170.5 466.7 L1171.5 468.3 L1172.5 472.4 L1173.5 465.5 L1174.5 379 L1175.5 354.5 L1176.5 335 L1177.5 296.5 L1178.5 345.7 L1179.5 378.4 L1180.5 398.1 L1181.5 456 L1182.5 447.1 L1183.5 463.9 L1184.5 464.4 L1185.5 470.7 L1186.5 468.7 L1187.5 477.9 L1188.5 468.4 L1189.5 434.1 L1190.5 372.2 L1191.5 305.6 L1192.5 373.2 L1193.5 353.2 L1194.5 373.9 L1195.5 426.3 L1196.5 442.5 L1197.5 443.7 L1198.5 476 L1199.5 475.7 L1200.5 476.7 L1201.5 456.7 L1202.5 408.7 L1203.5 332.3 L1204.5 404.8 L1205.5 358.6 L1206.5 352.7 L1207.5 354.2 L1208.5 390.9 L1209.5 387.3 L1210.5 399.8 L1211.5 448.2 L1212.5 434.9 L1213.5 452.7 L1214.5 464.8 L1215.5 465.6 L1216.5 470.6 L1217.5 451.6 L1218.5 369 L1219.5 324.7 L1220.5 248.1 L1221.5 343.3 L1222.5 309.9 L1223.5 331.7 L1224.5 318.9 L1225.5 441.6 L1226.5 450.2 L1227.5 428.3 L1228.5 470.2 L1229.5 466.8 L1230.5 469.5 L1231.5 478 L1232.5 468.1 L1233.5 402.4 L1234.5 390 L1235.5 242.5 L1236.5 280.4 L1237.5 372.3 L1238.5 351.2 L1239.5 328.2 L1240.5 377.4 L1241.5 307.3 L1242.5 421 L1243.5 443.1 L1244.5 421.5 L1245.5 474.3 L1246.5 462.7 L1247.5 457.3 L1248.5 472.8 L1249.5 461 L1250.5 333.1 L1251.5 286.4 L1252.5 321 L1253.5 224.7 L1254.5 292 L1255.5 327.9 L1256.5 268.3 L1257.5 305.3 L1258.5 359.2 L1259.5 458.4 L1260.5 460.2 L1261.5 467 L1262.5 471.5 L1263.5 470.9 L1264.5 463.1 L1265.5 478.4 L1266.5 366.5 L1267.5 422.7 L1268.5 262.9 L1269.5 357 L1270.5 316.1 L1271.5 337.1 L1272.5 354.2 L1273.5 444.1 L1274.5 412.7 L1275.5 462.4 L1276.5 463.8 L1277.5 469.8 L1278.5 467.1 L1279.5 406.6 L1280.5 259.7 L1281.5 225.3 L1282.5 256.2 L1283.5 365.3 L1284.5 259.2 L1285.5 309.2 L1286.5 347.2 L1287.5 295.8 L1288.5 209.2 L1289.5 437.1 L1290.5 395.6 L1291.5 427.8 L1292.5 460.4 L1293.5 459.5 L1294.5 464.1 L1295.5 466 L1296.5 402.8 L1297.5 398.6 L1298.5 343 L1299.5 313.6 L1300.5 404.8 L1301.5 336.1 L1302.5 352.8 L1303.5 384.9 L1304.5 350.4 L1305.5 369.2 L1306.5 404.4 L1307.5 456.5 L1308.5 465 L1309.5 473.6 L1310.5 473.6 L1311.5 475.5 L1312.5 468.7 L1313.5 397.2 L1314.5 321.4 L1315.5 281.1 L1316.5 345.1 L1317.5 359.5 L1318.5 347.5 L1319.5 383.6 L1320.5 360.2 L1321.5 446.5 L1322.5 444.7 L1323.5 465.7 L1324.5 462.6 L1325.5 467.6 L1326.5 465.7 L1327.5 465.9 L1328.5 465.9 L1329.5 432 L1330.5 337.3 L1331.5 232.7 L1332.5 301.6 L1333.5 285.4 L1334.5 290.4 L1335.5 277.3 L1336.5 318.1 L1337.5 337.6 L1338.5 306.5 L1339.5 434.8 L1340.5 410 L1341.5 464.5 L1342.5 474.5 L1343.5 476.9 L1344.5 473.3 L1345.5 461.6 L1346.5 390.4 L1347.5 357.2 L1348.5 275.6 L1349.5 287.9 L1350.5 370.9 L1351.5 373.2 L1352.5 391.1 L1353.5 367.1 L1354.5 323.7 L1355.5 419.8 L1356.5 459.2 L1357.5 425.5 L1358.5 473.2 L1359.5 460.8 L1360.5 472.8 L1361.5 466.4 L1362.5 331.3 L1363.5 340.8 L1364.5 303.2 L1365.5 301.1 L1366.5 229.2 L1367.5 324.9 L1368.5 277.8 L1369.5 413.7 L1370.5 416.1 L1371.5 409.5 L1372.5 473.7 L1373.5 477.3 L1374.5 471.9 L1375.5 463 L1376.5 467 L1377.5 472.4 L1378.5 427 L1379.5 287.5 L1380.5 225.5 L1381.5 360.3 L1382.5 266.4 L1383.5 304.2 L1384.5 346.2 L1385.5 369.3 L1386.5 464 L1387.5 458.4 L1388.5 470.7 L1389.5 486.1 L1390.5 485.4 L1391.5 471 L1392.5 470.5 L1393.5 392.6 L1394.5 394.5 L1395.5 392.5 L1396.5 319.3 L1397.5 336.4 L1398.5 371.1 L1399.5 364.1 L1400.5 377.1 L1401.5 422.4 L1402.5 441.2 L1403.5 474.3 L1404.5 472.8 L1405.5 473.8 L1406.5 478.5 L1407.5 487.1 L1408.5 488 L1409.5 441.5 L1410.5 443.3 L1411.5 292.6 L1412.5 324.2 L1413.5 334.6 L1414.5 322.6 L1415.5 393.1 L1416.5 390.4 L1417.5 426.7 L1418.5 439.9 L1419.5 471.8 L1420.5 479.5 L1421.5 477.8 L1422.5 481.2 L1423.5 475.7 L1424.5 408.4 L1425.5 398.2 L1426.5 286.8 L1427.5 308.1 L1428.5 371.2 L1429.5 363.1 L1430.5 395.8 L1431.5 341.5 L1432.5 357.2 L1433.5 442.9 L1434.5 440.4 L1435.5 445.7 L1436.5 463.1 L1437.5 467.5 L1438.5 455.5 L1439.5 464.4 L1440.5 467.9 L1441.5 400.3 L1442.5 324 L1443.5 275.3 L1444.5 292.3 L1445.5 366.6 L1446.5 400.2 L1447.5 397.9 L1448.5 419.5 L1449.5 465.5 L1450.5 468.9 L1451.5 476.3 L1452.5 482 L1453.5 484.5 L1454.5 407.4 L1455.5 443.1 L1456.5 272.4 L1457.5 298 L1458.5 365.7 L1459.5 366.6 L1460.5 359.4 L1461.5 428.4 L1462.5 441.7 L1463.5 449.1 L1464.5 473.5 L1465.5 473.4 L1466.5 479 L1467.5 461.7 L1468.5 475.7 L1469.5 365.6 L1470.5 229.9 L1471.5 344.1 L1472.5 267.2 L1473.5 374.6 L1474.5 232 L1475.5 381.9 L1476.5 287.6 L1477.5 453.1 L1478.5 439.8 L1479.5 477.9 L1480.5 477.6 L1481.5 471.6 L1482.5 478.1 L1483.5 467.2 L1484.5 462.7 L1485.5 426.6 L1486.5 452.2 L1487.5 344.9 L1488.5 325.9 L1489.5 339.4 L1490.5 347.3 L1491.5 392.4 L1492.5 367.2 L1493.5 379.8 L1494.5 475.5 L1495.5 441.1 L1496.5 484.8 L1497.5 489.4 L1498.5 488 L1499.5 488.6 L1500.5 486.6 L1501.5 404.4 L1502.5 358.5 L1503.5 323.2" fill="none" stroke="#f2761f" stroke-width="1.2" stroke-linejoin="round"/>
</svg>
<div class="yl" style="top:617.4px">-2</div>
<div class="yl" style="top:571.8px">-1</div>
<div class="yl" style="top:526.2px">0</div>
<div class="yl" style="top:480.6px">1</div>
<div class="yl" style="top:435.0px">2</div>
<div class="yl" style="top:389.4px">3</div>
<div class="yl" style="top:343.8px">4</div>
<div class="yl" style="top:298.2px">5</div>
<div class="yl" style="top:252.6px">6</div>
<div class="yl" style="top:207.0px">7</div>
<div class="yl" style="top:161.4px">8</div>
<div class="xl" style="left:2.7px">02/08 00:00</div>
<div class="xl" style="left:107.6px">02/08 12:00</div>
<div class="xl" style="left:212.4px">02/09 00:00</div>
<div class="xl" style="left:317.2px">02/09 12:00</div>
<div class="xl" style="left:422.1px">02/10 00:00</div>
<div class="xl" style="left:527.0px">02/10 12:00</div>
<div class="xl" style="left:631.8px">02/11 00:00</div>
<div class="xl" style="left:736.6px">02/11 12:00</div>
<div class="xl" style="left:841.5px">02/12 00:00</div>
<div class="xl" style="left:946.4px">02/12 12:00</div>
<div class="xl" style="left:1051.2px">02/13 00:00</div>
<div class="xl" style="left:1156.0px">02/13 12:00</div>
<div class="xl" style="left:1260.9px">02/14 00:00</div>
<div class="xl" style="left:1365.8px">02/14 12:00</div>
<div class="abs" style="left:1511px;top:125px;width:117px;height:1px;background:#e6e7e9"></div>
<div class="abs" style="left:1511px;top:146px;width:117px;height:1px;background:#e6e7e9"></div>
<div class="abs" style="left:1511px;top:166px;width:117px;height:1px;background:#e6e7e9"></div>
<div class="abs" style="left:1511px;top:187px;width:117px;height:1px;background:#e6e7e9"></div>
<div class="abs" style="left:1511px;top:207px;width:117px;height:1px;background:#e6e7e9"></div>
<div class="leg" style="top:125px"><i style="background:#56a64b"></i><span>Cận trên</span></div>
<div class="leg" style="top:146px"><i style="background:#e0b400"></i><span>Cận dưới</span></div>
<div class="leg" style="top:166.6px"><i style="background:#3d85f0"></i><span>Giá trị trung bình</span></div>
<div class="leg" style="top:187.2px"><i style="background:#fa6400"></i><span>Giá trị hiện tại</span></div>
</body></html>
